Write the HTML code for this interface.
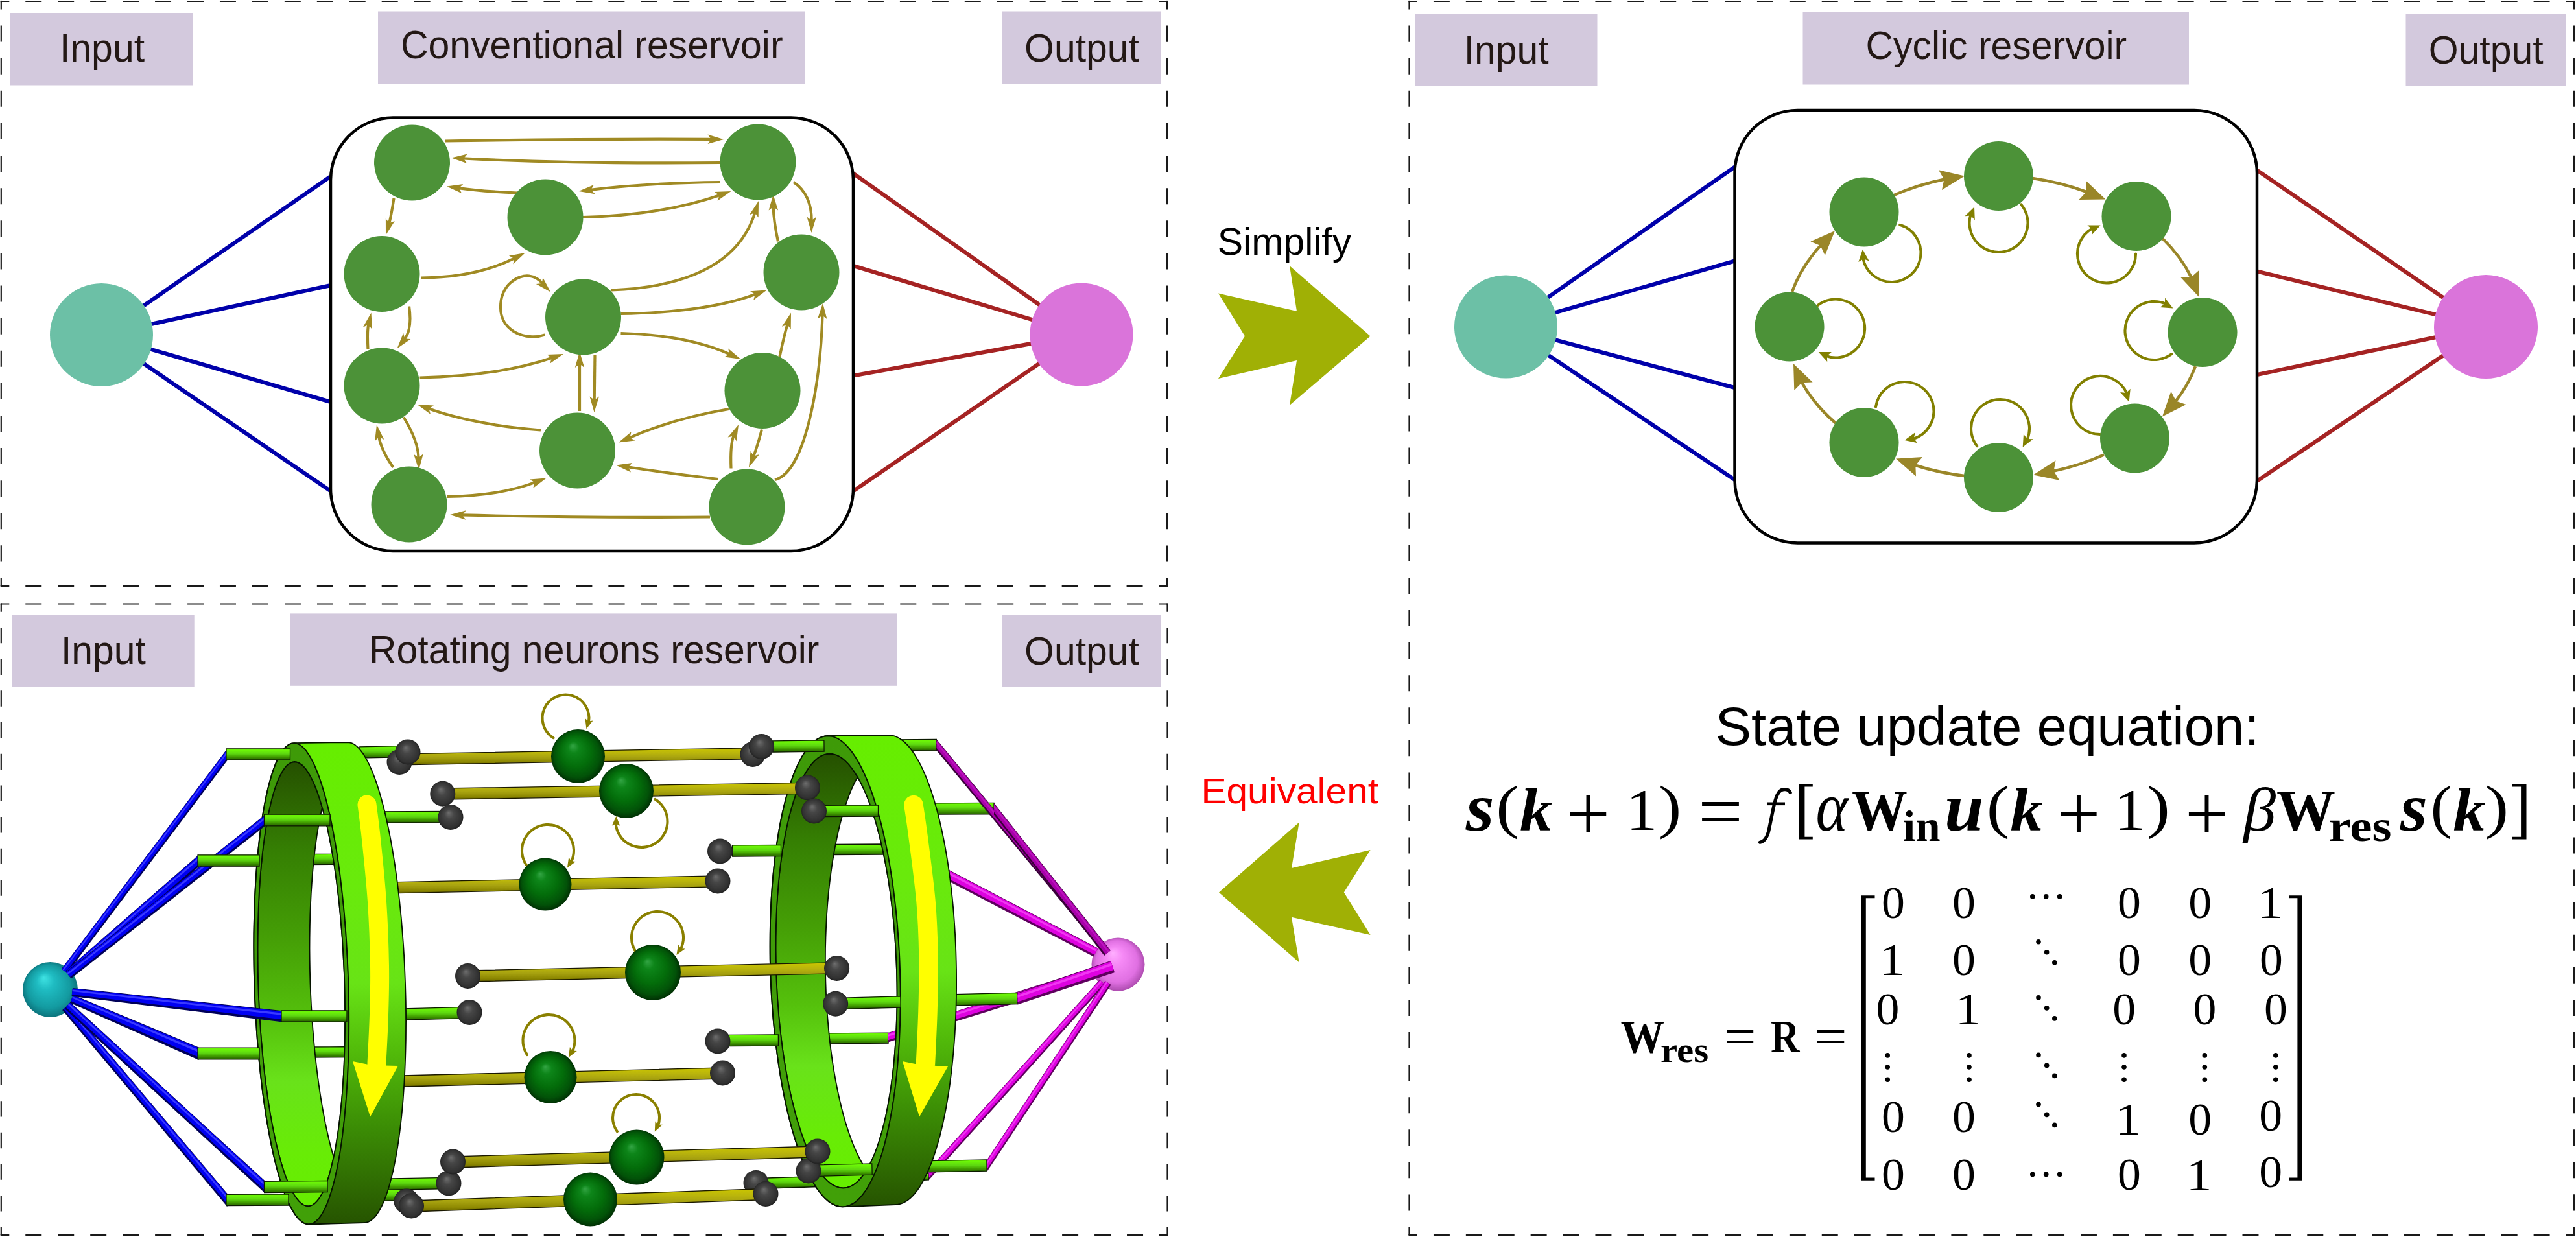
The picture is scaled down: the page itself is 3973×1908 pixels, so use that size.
<!DOCTYPE html>
<html><head><meta charset="utf-8"><title>Reservoir computing diagram</title>
<style>html,body{margin:0;padding:0;background:#fff;font-family:"Liberation Sans",sans-serif}svg{display:block}</style></head><body>
<svg width="3973" height="1908" viewBox="0 0 3973 1908">
<rect width="3973" height="1908" fill="#fff"/>
<defs>
<radialGradient id="gS" cx="0.5" cy="0.5" r="0.52" fx="0.4" fy="0.3">
<stop offset="0" stop-color="#33a544"/><stop offset="0.2" stop-color="#0d8519"/><stop offset="0.55" stop-color="#036d0a"/><stop offset="0.82" stop-color="#025208"/><stop offset="1" stop-color="#012a03"/></radialGradient>
<radialGradient id="kS" cx="0.5" cy="0.5" r="0.52" fx="0.42" fy="0.32">
<stop offset="0" stop-color="#6e6e6e"/><stop offset="0.35" stop-color="#464646"/><stop offset="0.85" stop-color="#303030"/><stop offset="1" stop-color="#1c1c1c"/></radialGradient>
<radialGradient id="cS" cx="0.5" cy="0.5" r="0.52" fx="0.38" fy="0.28">
<stop offset="0" stop-color="#3fe3e3"/><stop offset="0.3" stop-color="#1fbcc2"/><stop offset="0.75" stop-color="#139aa0"/><stop offset="1" stop-color="#0b6f78"/></radialGradient>
<radialGradient id="mS" cx="0.5" cy="0.5" r="0.52" fx="0.4" fy="0.28">
<stop offset="0" stop-color="#ffb0ff"/><stop offset="0.3" stop-color="#f68af6"/><stop offset="0.75" stop-color="#e070e2"/><stop offset="1" stop-color="#a848aa"/></radialGradient>
<linearGradient id="rG" x1="0" y1="0" x2="0" y2="1">
<stop offset="0" stop-color="#66f000"/><stop offset="0.14" stop-color="#6cf508"/><stop offset="0.45" stop-color="#5dd710"/><stop offset="0.7" stop-color="#42a000"/><stop offset="0.92" stop-color="#2e7000"/><stop offset="1" stop-color="#204f00"/></linearGradient>
<linearGradient id="rY" x1="0" y1="0" x2="0" y2="1">
<stop offset="0" stop-color="#cbc600"/><stop offset="0.3" stop-color="#bab50c"/><stop offset="0.55" stop-color="#a8a310"/><stop offset="0.85" stop-color="#8a8500"/><stop offset="1" stop-color="#686300"/></linearGradient>

<linearGradient id="ro1" gradientUnits="userSpaceOnUse" x1="0" y1="1146" x2="0" y2="1889">
<stop offset="0" stop-color="#66ee00"/><stop offset="0.3" stop-color="#69ea0c"/><stop offset="0.5" stop-color="#68e316"/><stop offset="0.64" stop-color="#52bb0a"/><stop offset="0.8" stop-color="#3b8c05"/><stop offset="1" stop-color="#265300"/></linearGradient>
<linearGradient id="ri1" gradientUnits="userSpaceOnUse" x1="0" y1="1175" x2="0" y2="1860">
<stop offset="0" stop-color="#255000"/><stop offset="0.2" stop-color="#357f03"/><stop offset="0.4" stop-color="#459f06"/><stop offset="0.58" stop-color="#55c10c"/><stop offset="0.72" stop-color="#69e21a"/><stop offset="0.88" stop-color="#68ec06"/><stop offset="1" stop-color="#66ee00"/></linearGradient>
<linearGradient id="ra1" gradientUnits="userSpaceOnUse" x1="0" y1="1146" x2="0" y2="1889">
<stop offset="0" stop-color="#3e9a08"/><stop offset="0.5" stop-color="#409c09"/><stop offset="1" stop-color="#41a008"/></linearGradient>
<linearGradient id="ro2" gradientUnits="userSpaceOnUse" x1="0" y1="1135" x2="0" y2="1861.5">
<stop offset="0" stop-color="#66ee00"/><stop offset="0.3" stop-color="#69ea0c"/><stop offset="0.5" stop-color="#68e316"/><stop offset="0.64" stop-color="#52bb0a"/><stop offset="0.8" stop-color="#3b8c05"/><stop offset="1" stop-color="#265300"/></linearGradient>
<linearGradient id="ri2" gradientUnits="userSpaceOnUse" x1="0" y1="1162.5" x2="0" y2="1832.5">
<stop offset="0" stop-color="#255000"/><stop offset="0.2" stop-color="#357f03"/><stop offset="0.4" stop-color="#459f06"/><stop offset="0.58" stop-color="#55c10c"/><stop offset="0.72" stop-color="#69e21a"/><stop offset="0.88" stop-color="#68ec06"/><stop offset="1" stop-color="#66ee00"/></linearGradient>
<linearGradient id="ra2" gradientUnits="userSpaceOnUse" x1="0" y1="1135" x2="0" y2="1861.5">
<stop offset="0" stop-color="#3e9a08"/><stop offset="0.5" stop-color="#409c09"/><stop offset="1" stop-color="#41a008"/></linearGradient>
</defs>
<line x1="1.8" y1="2" x2="1800" y2="2" stroke="#1a1a1a" stroke-width="2.2" stroke-dasharray="24.975 24.975" stroke-dashoffset="12.488"/>
<line x1="1800" y1="2" x2="1800" y2="904" stroke="#1a1a1a" stroke-width="2.2" stroke-dasharray="25.056 25.056" stroke-dashoffset="12.528"/>
<line x1="1800" y1="904" x2="1.8" y2="904" stroke="#1a1a1a" stroke-width="2.2" stroke-dasharray="24.975 24.975" stroke-dashoffset="12.488"/>
<line x1="1.8" y1="904" x2="1.8" y2="2" stroke="#1a1a1a" stroke-width="2.2" stroke-dasharray="25.056 25.056" stroke-dashoffset="12.528"/>
<rect x="0.7" y="0.9" width="2.2" height="2.2" fill="#1a1a1a"/>
<rect x="1798.9" y="0.9" width="2.2" height="2.2" fill="#1a1a1a"/>
<rect x="1798.9" y="902.9" width="2.2" height="2.2" fill="#1a1a1a"/>
<rect x="0.7" y="902.9" width="2.2" height="2.2" fill="#1a1a1a"/>
<line x1="2173.5" y1="2" x2="3970" y2="2" stroke="#1a1a1a" stroke-width="2.2" stroke-dasharray="24.951 24.951" stroke-dashoffset="12.476"/>
<line x1="3970" y1="2" x2="3970" y2="1905" stroke="#1a1a1a" stroke-width="2.2" stroke-dasharray="25.039 25.039" stroke-dashoffset="12.520"/>
<line x1="3970" y1="1905" x2="2173.5" y2="1905" stroke="#1a1a1a" stroke-width="2.2" stroke-dasharray="24.951 24.951" stroke-dashoffset="12.476"/>
<line x1="2173.5" y1="1905" x2="2173.5" y2="2" stroke="#1a1a1a" stroke-width="2.2" stroke-dasharray="25.039 25.039" stroke-dashoffset="12.520"/>
<rect x="2172.4" y="0.9" width="2.2" height="2.2" fill="#1a1a1a"/>
<rect x="3968.9" y="0.9" width="2.2" height="2.2" fill="#1a1a1a"/>
<rect x="3968.9" y="1903.9" width="2.2" height="2.2" fill="#1a1a1a"/>
<rect x="2172.4" y="1903.9" width="2.2" height="2.2" fill="#1a1a1a"/>
<line x1="1.8" y1="931.5" x2="1800.5" y2="931.5" stroke="#1a1a1a" stroke-width="2.2" stroke-dasharray="24.982 24.982" stroke-dashoffset="12.491"/>
<line x1="1800.5" y1="931.5" x2="1800.5" y2="1905" stroke="#1a1a1a" stroke-width="2.2" stroke-dasharray="24.337 24.337" stroke-dashoffset="12.169"/>
<line x1="1800.5" y1="1905" x2="1.8" y2="1905" stroke="#1a1a1a" stroke-width="2.2" stroke-dasharray="24.982 24.982" stroke-dashoffset="12.491"/>
<line x1="1.8" y1="1905" x2="1.8" y2="931.5" stroke="#1a1a1a" stroke-width="2.2" stroke-dasharray="24.337 24.337" stroke-dashoffset="12.169"/>
<rect x="0.7" y="930.4" width="2.2" height="2.2" fill="#1a1a1a"/>
<rect x="1799.4" y="930.4" width="2.2" height="2.2" fill="#1a1a1a"/>
<rect x="1799.4" y="1903.9" width="2.2" height="2.2" fill="#1a1a1a"/>
<rect x="0.7" y="1903.9" width="2.2" height="2.2" fill="#1a1a1a"/>
<rect x="16" y="20" width="282" height="111.5" fill="#d3c9dd"/>
<text transform="translate(157.5,95) scale(0.966,1)" font-family="Liberation Sans, sans-serif" font-size="61" text-anchor="middle" fill="#231815">Input</text>
<rect x="583" y="17.5" width="658.5" height="111.5" fill="#d3c9dd"/>
<text transform="translate(912.8,90) scale(0.966,1)" font-family="Liberation Sans, sans-serif" font-size="61" text-anchor="middle" fill="#231815">Conventional reservoir</text>
<rect x="1545" y="17.5" width="246" height="111.5" fill="#d3c9dd"/>
<text transform="translate(1668.5,95) scale(0.966,1)" font-family="Liberation Sans, sans-serif" font-size="61" text-anchor="middle" fill="#231815">Output</text>
<rect x="2182" y="21" width="281.5" height="112" fill="#d3c9dd"/>
<text transform="translate(2323.2,97.5) scale(0.966,1)" font-family="Liberation Sans, sans-serif" font-size="61" text-anchor="middle" fill="#231815">Input</text>
<rect x="2780.5" y="19" width="595.5" height="111.5" fill="#d3c9dd"/>
<text transform="translate(3078.8,91) scale(0.966,1)" font-family="Liberation Sans, sans-serif" font-size="61" text-anchor="middle" fill="#231815">Cyclic reservoir</text>
<rect x="3710.5" y="21" width="246.5" height="112" fill="#d3c9dd"/>
<text transform="translate(3834.2,97.5) scale(0.966,1)" font-family="Liberation Sans, sans-serif" font-size="61" text-anchor="middle" fill="#231815">Output</text>
<rect x="18.2" y="948.3" width="281.5" height="111.5" fill="#d3c9dd"/>
<text transform="translate(159.4,1024) scale(0.966,1)" font-family="Liberation Sans, sans-serif" font-size="61" text-anchor="middle" fill="#231815">Input</text>
<rect x="447.5" y="946.4" width="936.5" height="111.4" fill="#d3c9dd"/>
<text transform="translate(916.2,1023) scale(0.966,1)" font-family="Liberation Sans, sans-serif" font-size="61" text-anchor="middle" fill="#231815">Rotating neurons reservoir</text>
<rect x="1545" y="948.5" width="246" height="111.5" fill="#d3c9dd"/>
<text transform="translate(1668.5,1025) scale(0.966,1)" font-family="Liberation Sans, sans-serif" font-size="61" text-anchor="middle" fill="#231815">Output</text>
<line x1="156.5" y1="516.5" x2="510" y2="272" stroke="#0000aa" stroke-width="6.2"/>
<line x1="156.5" y1="516.5" x2="510" y2="440" stroke="#0000aa" stroke-width="6.2"/>
<line x1="156.5" y1="516.5" x2="510" y2="620" stroke="#0000aa" stroke-width="6.2"/>
<line x1="156.5" y1="516.5" x2="510" y2="757.5" stroke="#0000aa" stroke-width="6.2"/>
<line x1="1668" y1="516" x2="1316" y2="267.5" stroke="#a52323" stroke-width="6.2"/>
<line x1="1668" y1="516" x2="1316" y2="410" stroke="#a52323" stroke-width="6.2"/>
<line x1="1668" y1="516" x2="1316" y2="579.5" stroke="#a52323" stroke-width="6.2"/>
<line x1="1668" y1="516" x2="1316" y2="757.5" stroke="#a52323" stroke-width="6.2"/>
<circle cx="156.5" cy="516.5" r="79.5" fill="#6cc0a6"/>
<circle cx="1668" cy="516" r="79.5" fill="#da74da"/>
<rect x="510" y="181.5" width="806" height="668.5" rx="96" ry="96" fill="#fff" stroke="#000" stroke-width="4.5"/>
<path d="M686,217.5 Q900,214 1098,214.9" fill="none" stroke="#a08a23" stroke-width="4.2"/>
<path d="M1116,215 L1091.5,222.1 L1097,214.9 L1091.5,207.6 Z" fill="#a08a23"/>
<path d="M1111,251 Q880,253 714,244.4" fill="none" stroke="#a08a23" stroke-width="4.2"/>
<path d="M696,243.5 L720.8,237.5 L715,244.5 L720.1,252 Z" fill="#a08a23"/>
<path d="M1111,281 Q1000,282 910.4,292.8" fill="none" stroke="#a08a23" stroke-width="4.2"/>
<path d="M892.5,295 L916,284.9 L911.4,292.7 L917.7,299.3 Z" fill="#a08a23"/>
<path d="M797.5,297.5 Q740,295 706.8,290.1" fill="none" stroke="#a08a23" stroke-width="4.2"/>
<path d="M689,287.5 L714.3,283.9 L707.8,290.3 L712.2,298.2 Z" fill="#a08a23"/>
<path d="M899,335 Q1020,332 1110.5,300.9" fill="none" stroke="#a08a23" stroke-width="4.2"/>
<path d="M1127.5,295 L1106.7,309.8 L1109.5,301.2 L1102,296.1 Z" fill="#a08a23"/>
<path d="M607.5,306 Q603,335 600,345.2" fill="none" stroke="#a08a23" stroke-width="4.2"/>
<path d="M595,362.5 L594.9,337 L600.3,344.3 L608.8,341 Z" fill="#a08a23"/>
<path d="M650,428.5 Q735,428 793.9,398.1" fill="none" stroke="#a08a23" stroke-width="4.2"/>
<path d="M810,390 L791.4,407.5 L793.1,398.6 L784.9,394.6 Z" fill="#a08a23"/>
<path d="M942.5,447.5 Q1130,440 1164.7,327.2" fill="none" stroke="#a08a23" stroke-width="4.2"/>
<path d="M1170,310 L1169.7,335.5 L1164.4,328.2 L1155.9,331.3 Z" fill="#a08a23"/>
<path d="M957.5,484 Q1090,482 1165.6,453.8" fill="none" stroke="#a08a23" stroke-width="4.2"/>
<path d="M1182.5,447.5 L1162.1,462.9 L1164.7,454.1 L1157,449.3 Z" fill="#a08a23"/>
<path d="M957.5,514 Q1060,517 1126.1,546.6" fill="none" stroke="#a08a23" stroke-width="4.2"/>
<path d="M1142.5,554 L1117.2,550.6 L1125.2,546.2 L1123.1,537.4 Z" fill="#a08a23"/>
<path d="M567.5,539 Q566,510 568.4,500" fill="none" stroke="#a08a23" stroke-width="4.2"/>
<path d="M572.5,482.5 L573.9,508 L568.1,501 L559.8,504.7 Z" fill="#a08a23"/>
<path d="M631,472.5 Q636,508 623.7,523.4" fill="none" stroke="#a08a23" stroke-width="4.2"/>
<path d="M612.5,537.5 L622.1,513.8 L624.3,522.6 L633.4,522.9 Z" fill="#a08a23"/>
<path d="M647.5,582.5 Q770,580 852,551.8" fill="none" stroke="#a08a23" stroke-width="4.2"/>
<path d="M869,546 L848.2,560.8 L851,552.2 L843.5,547.1 Z" fill="#a08a23"/>
<path d="M1224,281 Q1252,300 1251.7,341" fill="none" stroke="#a08a23" stroke-width="4.2"/>
<path d="M1251.5,359 L1244.5,334.4 L1251.7,340 L1259,334.6 Z" fill="#a08a23"/>
<path d="M1200,372.5 Q1193,340 1192.7,318" fill="none" stroke="#a08a23" stroke-width="4.2"/>
<path d="M1192.5,300 L1200.1,324.4 L1192.7,319 L1185.6,324.6 Z" fill="#a08a23"/>
<path d="M1202.5,550 Q1210,515 1214.7,499.7" fill="none" stroke="#a08a23" stroke-width="4.2"/>
<path d="M1220,482.5 L1219.7,508 L1214.4,500.7 L1205.9,503.8 Z" fill="#a08a23"/>
<path d="M894,634 Q894,590 894,560.5" fill="none" stroke="#a08a23" stroke-width="4.2"/>
<path d="M894,542.5 L901.2,567 L894,561.5 L886.8,567 Z" fill="#a08a23"/>
<path d="M917.5,547.5 Q917,590 916.7,618" fill="none" stroke="#a08a23" stroke-width="4.2"/>
<path d="M916.5,636 L909.5,611.4 L916.7,617 L924,611.6 Z" fill="#a08a23"/>
<path d="M834,663.5 Q730,655 660.4,630.1" fill="none" stroke="#a08a23" stroke-width="4.2"/>
<path d="M643.5,624 L669,625.4 L661.4,630.4 L664.1,639.1 Z" fill="#a08a23"/>
<path d="M1124,631 Q1040,645 970.5,675.3" fill="none" stroke="#a08a23" stroke-width="4.2"/>
<path d="M954,682.5 L973.6,666.1 L971.4,674.9 L979.4,679.4 Z" fill="#a08a23"/>
<path d="M1107.5,739 Q1030,730 967.8,720.3" fill="none" stroke="#a08a23" stroke-width="4.2"/>
<path d="M950,717.5 L975.3,714.1 L968.8,720.4 L973.1,728.4 Z" fill="#a08a23"/>
<path d="M690,766 Q770,765 825.7,743.9" fill="none" stroke="#a08a23" stroke-width="4.2"/>
<path d="M842.5,737.5 L822.2,753 L824.7,744.2 L817,739.4 Z" fill="#a08a23"/>
<path d="M1095,797.5 Q900,799 712,794.4" fill="none" stroke="#a08a23" stroke-width="4.2"/>
<path d="M694,794 L718.7,787.3 L713,794.5 L718.3,801.8 Z" fill="#a08a23"/>
<path d="M622.5,643.5 Q645,680 645.6,707" fill="none" stroke="#a08a23" stroke-width="4.2"/>
<path d="M646,725 L638.2,700.7 L645.6,706 L652.7,700.3 Z" fill="#a08a23"/>
<path d="M606.5,721 Q588,695 584.1,672.7" fill="none" stroke="#a08a23" stroke-width="4.2"/>
<path d="M581,655 L592.4,677.9 L584.3,673.7 L578.1,680.4 Z" fill="#a08a23"/>
<path d="M1127.5,722.5 Q1126,685 1131.8,671.5" fill="none" stroke="#a08a23" stroke-width="4.2"/>
<path d="M1139,655 L1135.9,680.4 L1131.4,672.4 L1122.6,674.6 Z" fill="#a08a23"/>
<path d="M1175,662.5 Q1167,692 1161.9,704.4" fill="none" stroke="#a08a23" stroke-width="4.2"/>
<path d="M1155,721 L1157.7,695.6 L1162.3,703.4 L1171.1,701.1 Z" fill="#a08a23"/>
<path d="M1195,740 C1240,730 1265,600 1268.5,485.5" fill="none" stroke="#a08a23" stroke-width="4.2"/>
<path d="M1269,467.5 L1275.5,492.2 L1268.4,486.5 L1261,491.8 Z" fill="#a08a23"/>
<path d="M840.5,516.5 C812,526 772,512 772,474 C772,438 800,423.5 816,425.5 C827,427 833,432 837.5,438.5" fill="none" stroke="#a08a23" stroke-width="4.2"/>
<path d="M849.2,450.4 L826.8,438 L835.9,436.9 L837.2,427.9 Z" fill="#a08a23"/>
<circle cx="635.5" cy="251" r="58.5" fill="#4c9238"/>
<circle cx="841" cy="335" r="58.5" fill="#4c9238"/>
<circle cx="589" cy="422.5" r="58.5" fill="#4c9238"/>
<circle cx="899.5" cy="489" r="58.5" fill="#4c9238"/>
<circle cx="1169" cy="250" r="58.5" fill="#4c9238"/>
<circle cx="1236" cy="420" r="58.5" fill="#4c9238"/>
<circle cx="589" cy="595" r="58.5" fill="#4c9238"/>
<circle cx="1176" cy="602.5" r="58.5" fill="#4c9238"/>
<circle cx="890.5" cy="695" r="58.5" fill="#4c9238"/>
<circle cx="631" cy="778" r="58.5" fill="#4c9238"/>
<circle cx="1152" cy="782" r="58.5" fill="#4c9238"/>
<text x="1981" y="392.5" font-family="Liberation Sans, sans-serif" font-size="59" text-anchor="middle" fill="#000">Simplify</text>
<path d="M1879,452.5 L2000,480 L1989,410 L2113.5,518.5 L1989,625 L2000,556 L1879,584 L1920,518.5 Z" fill="#a0b005"/>
<text transform="translate(1989.2,1239) scale(1.05,1)" font-family="Liberation Sans, sans-serif" font-size="55.8" text-anchor="middle" fill="#ff0000">Equivalent</text>
<path d="M2113.6,1311 L1992,1339 L2003.7,1268.4 L1880,1376.5 L2003.7,1484.5 L1992,1414.7 L2113.6,1442 L2072.8,1376.5 Z" fill="#a0b005"/>
<line x1="2322.5" y1="504" x2="2675.5" y2="257.5" stroke="#0000aa" stroke-width="6.2"/>
<line x1="2322.5" y1="504" x2="2675.5" y2="402.5" stroke="#0000aa" stroke-width="6.2"/>
<line x1="2322.5" y1="504" x2="2675.5" y2="598" stroke="#0000aa" stroke-width="6.2"/>
<line x1="2322.5" y1="504" x2="2675.5" y2="740" stroke="#0000aa" stroke-width="6.2"/>
<line x1="3834" y1="504" x2="3481" y2="262.5" stroke="#a52323" stroke-width="6.2"/>
<line x1="3834" y1="504" x2="3481" y2="418.5" stroke="#a52323" stroke-width="6.2"/>
<line x1="3834" y1="504" x2="3481" y2="578" stroke="#a52323" stroke-width="6.2"/>
<line x1="3834" y1="504" x2="3481" y2="742" stroke="#a52323" stroke-width="6.2"/>
<circle cx="2322.5" cy="504" r="79.5" fill="#6cc0a6"/>
<circle cx="3834" cy="504" r="80" fill="#da74da"/>
<rect x="2675.5" y="170" width="805.5" height="667.5" rx="97" ry="97" fill="#fff" stroke="#000" stroke-width="4.5"/>
<path d="M2764,450 A318,232 0 0 1 2808.4,378.3" fill="none" stroke="#9a8628" stroke-width="4.5"/>
<path d="M2830,356 L2814.7,394.1 L2807.7,379 L2792.4,372.5 Z" fill="#9a8628"/>
<path d="M2921,301 A318,232 0 0 1 2999.4,276.5" fill="none" stroke="#9a8628" stroke-width="4.5"/>
<path d="M3030,271.5 L2995,292.9 L2998.4,276.7 L2990,262.3 Z" fill="#9a8628"/>
<path d="M3135,275 A318,232 0 0 1 3218.6,296.2" fill="none" stroke="#9a8628" stroke-width="4.5"/>
<path d="M3247.5,307.5 L3206.5,308.1 L3217.7,295.9 L3217.7,279.2 Z" fill="#9a8628"/>
<path d="M3335,367.5 A318,232 0 0 1 3380,428.5" fill="none" stroke="#9a8628" stroke-width="4.5"/>
<path d="M3391,457.5 L3363,427.5 L3379.6,427.6 L3392,416.5 Z" fill="#9a8628"/>
<path d="M3386,565 A318,232 0 0 1 3355.4,619.2" fill="none" stroke="#9a8628" stroke-width="4.5"/>
<path d="M3335,642.5 L3348.4,603.7 L3356.1,618.4 L3371.7,624.1 Z" fill="#9a8628"/>
<path d="M3245,701.5 A318,232 0 0 1 3166.5,726.8" fill="none" stroke="#9a8628" stroke-width="4.5"/>
<path d="M3136,732.5 L3170.5,710.3 L3167.5,726.6 L3176.2,740.8 Z" fill="#9a8628"/>
<path d="M3030,734 A318,232 0 0 1 2953.3,717.5" fill="none" stroke="#9a8628" stroke-width="4.5"/>
<path d="M2924,707.5 L2965,705.1 L2954.3,717.8 L2955,734.4 Z" fill="#9a8628"/>
<path d="M2831,652.5 A318,232 0 0 1 2778.6,589.3" fill="none" stroke="#9a8628" stroke-width="4.5"/>
<path d="M2766,561 L2795.6,589.4 L2779,590.2 L2767.3,602 Z" fill="#9a8628"/>
<path d="M2803.7,470.8 A45,45 0 1 1 2816.6,549.1" fill="none" stroke="#828000" stroke-width="4.1" stroke-linecap="round"/>
<path d="M2804.7,543 L2824.9,543 L2817.9,548.9 L2818.2,558.1 Z" fill="#828000"/>
<path d="M2930.2,346.8 A45,45 0 1 1 2873.3,398.3" fill="none" stroke="#828000" stroke-width="4.1" stroke-linecap="round"/>
<path d="M2872.8,384.8 L2882.7,402.5 L2874.1,399.3 L2866.3,404 Z" fill="#828000"/>
<path d="M3117.2,315.3 A45,45 0 1 1 3039.3,331.4" fill="none" stroke="#828000" stroke-width="4.1" stroke-linecap="round"/>
<path d="M3045,319.2 L3045.8,339.4 L3039.6,332.6 L3030.5,333.3 Z" fill="#828000"/>
<path d="M3294,391.5 A45,45 0 1 1 3227.1,352.2" fill="none" stroke="#828000" stroke-width="4.1" stroke-linecap="round"/>
<path d="M3239.6,347.5 L3226,362.5 L3226.4,353.3 L3219.4,347.4 Z" fill="#828000"/>
<path d="M3349.2,546.2 A45,45 0 1 1 3340.1,468.6" fill="none" stroke="#828000" stroke-width="4.1" stroke-linecap="round"/>
<path d="M3351.5,475.6 L3331.3,474.1 L3338.8,468.7 L3339.2,459.6 Z" fill="#828000"/>
<path d="M3239,670 A45,45 0 1 1 3280.2,606.8" fill="none" stroke="#828000" stroke-width="4.1" stroke-linecap="round"/>
<path d="M3283.7,619.8 L3270,604.9 L3279.1,606.1 L3285.7,599.7 Z" fill="#828000"/>
<path d="M3049.1,688.1 A45,45 0 1 1 3126.6,678.2" fill="none" stroke="#828000" stroke-width="4.1" stroke-linecap="round"/>
<path d="M3119.7,689.7 L3121,669.5 L3126.4,676.9 L3135.6,677.2 Z" fill="#828000"/>
<path d="M2893,627.6 A45,45 0 1 1 2950.8,677" fill="none" stroke="#828000" stroke-width="4.1" stroke-linecap="round"/>
<path d="M2937.5,679 L2953.9,667.1 L2951.7,676 L2957.3,683.3 Z" fill="#828000"/>
<circle cx="2875" cy="327" r="53.5" fill="#4c9238"/>
<circle cx="3082.5" cy="271.5" r="53.5" fill="#4c9238"/>
<circle cx="3295" cy="333.5" r="53.5" fill="#4c9238"/>
<circle cx="3397" cy="512.5" r="53.5" fill="#4c9238"/>
<circle cx="3292.5" cy="676" r="53.5" fill="#4c9238"/>
<circle cx="3082.5" cy="736.5" r="53.5" fill="#4c9238"/>
<circle cx="2875" cy="682.5" r="53.5" fill="#4c9238"/>
<circle cx="2760" cy="504" r="53.5" fill="#4c9238"/>
<text x="3065" y="1148.5" font-family="Liberation Sans, sans-serif" font-size="83.4" text-anchor="middle" fill="#000">State update equation:</text>
<text transform="translate(2260.8,1281) scale(1.074,1)" font-family="Liberation Serif, serif" font-size="105" font-weight="bold" font-style="italic" fill="#000">s</text>
<text transform="translate(2307.3,1275) scale(1.167,1)" font-family="Liberation Serif, serif" font-size="92" fill="#000">(</text>
<text transform="translate(2343.9,1281) scale(1.065,1)" font-family="Liberation Serif, serif" font-size="94" font-weight="bold" font-style="italic" fill="#000">k</text>
<text transform="translate(2416.1,1294.8) scale(0.982,1)" font-family="Liberation Serif, serif" font-size="121" fill="#000">+</text>
<text transform="translate(2508,1280) scale(1.058,1)" font-family="Liberation Serif, serif" font-size="91" fill="#000">1</text>
<text transform="translate(2557.7,1275) scale(1.160,1)" font-family="Liberation Serif, serif" font-size="92" fill="#000">)</text>
<text transform="translate(2618.9,1292) scale(1.009,1)" font-family="Liberation Serif, serif" font-size="121" fill="#000">=</text>
<text transform="translate(2800.4,1281) scale(0.875,1)" font-family="Liberation Serif, serif" font-size="108" font-style="italic" fill="#000">α</text>
<text transform="translate(2856.1,1281) scale(0.933,1)" font-family="Liberation Serif, serif" font-size="92" font-weight="bold" fill="#000">W</text>
<text transform="translate(2935,1297) scale(1.015,1)" font-family="Liberation Serif, serif" font-size="68" font-weight="bold" fill="#000">in</text>
<text transform="translate(2998.9,1281) scale(1.038,1)" font-family="Liberation Serif, serif" font-size="105" font-weight="bold" font-style="italic" fill="#000">u</text>
<text transform="translate(3063.7,1275) scale(1.167,1)" font-family="Liberation Serif, serif" font-size="92" fill="#000">(</text>
<text transform="translate(3100.5,1281) scale(1.063,1)" font-family="Liberation Serif, serif" font-size="94" font-weight="bold" font-style="italic" fill="#000">k</text>
<text transform="translate(3172.6,1294.8) scale(0.981,1)" font-family="Liberation Serif, serif" font-size="121" fill="#000">+</text>
<text transform="translate(3260.8,1280) scale(1.061,1)" font-family="Liberation Serif, serif" font-size="91" fill="#000">1</text>
<text transform="translate(3310.6,1275) scale(1.188,1)" font-family="Liberation Serif, serif" font-size="92" fill="#000">)</text>
<text transform="translate(3370,1294.8) scale(0.981,1)" font-family="Liberation Serif, serif" font-size="121" fill="#000">+</text>
<text transform="translate(3460.1,1281) scale(1.048,1)" font-family="Liberation Serif, serif" font-size="96" font-style="italic" fill="#000">β</text>
<text transform="translate(3511,1281) scale(0.989,1)" font-family="Liberation Serif, serif" font-size="92" font-weight="bold" fill="#000">W</text>
<text transform="translate(3591.4,1297) scale(1.134,1)" font-family="Liberation Serif, serif" font-size="68" font-weight="bold" fill="#000">res</text>
<text transform="translate(3701.8,1281) scale(1.031,1)" font-family="Liberation Serif, serif" font-size="105" font-weight="bold" font-style="italic" fill="#000">s</text>
<text transform="translate(3748.6,1275) scale(1.100,1)" font-family="Liberation Serif, serif" font-size="92" fill="#000">(</text>
<text transform="translate(3783.6,1281) scale(1.063,1)" font-family="Liberation Serif, serif" font-size="94" font-weight="bold" font-style="italic" fill="#000">k</text>
<text transform="translate(3832.6,1275) scale(1.200,1)" font-family="Liberation Serif, serif" font-size="92" fill="#000">)</text>
<text transform="translate(2499.4,1623) scale(0.932,1)" font-family="Liberation Serif, serif" font-size="72.5" font-weight="bold" fill="#000">W</text>
<text transform="translate(2560.9,1638) scale(1.092,1)" font-family="Liberation Serif, serif" font-size="54" font-weight="bold" fill="#000">res</text>
<text transform="translate(2658.7,1625.5) scale(1.103,1)" font-family="Liberation Serif, serif" font-size="80" fill="#000">=</text>
<text transform="translate(2731,1623) scale(0.850,1)" font-family="Liberation Serif, serif" font-size="72.5" font-weight="bold" fill="#000">R</text>
<text transform="translate(2798.4,1625.5) scale(1.110,1)" font-family="Liberation Serif, serif" font-size="80" fill="#000">=</text>
<text transform="translate(2901.9,1415.5) scale(1.040,1)" font-family="Liberation Serif, serif" font-size="69" fill="#000">0</text>
<text transform="translate(3010.9,1415.5) scale(1.040,1)" font-family="Liberation Serif, serif" font-size="69" fill="#000">0</text>
<text transform="translate(3266.1,1415.5) scale(1.040,1)" font-family="Liberation Serif, serif" font-size="69" fill="#000">0</text>
<text transform="translate(3375.2,1415.5) scale(1.040,1)" font-family="Liberation Serif, serif" font-size="69" fill="#000">0</text>
<text transform="translate(3481.3,1415.5) scale(1.160,1)" font-family="Liberation Serif, serif" font-size="69" fill="#000">1</text>
<text transform="translate(2898.1,1504) scale(1.160,1)" font-family="Liberation Serif, serif" font-size="69" fill="#000">1</text>
<text transform="translate(3010.9,1504) scale(1.040,1)" font-family="Liberation Serif, serif" font-size="69" fill="#000">0</text>
<text transform="translate(3266.1,1504) scale(1.040,1)" font-family="Liberation Serif, serif" font-size="69" fill="#000">0</text>
<text transform="translate(3375.2,1504) scale(1.040,1)" font-family="Liberation Serif, serif" font-size="69" fill="#000">0</text>
<text transform="translate(3485.1,1504) scale(1.040,1)" font-family="Liberation Serif, serif" font-size="69" fill="#000">0</text>
<text transform="translate(2893.5,1580) scale(1.040,1)" font-family="Liberation Serif, serif" font-size="69" fill="#000">0</text>
<text transform="translate(3015.5,1580) scale(1.160,1)" font-family="Liberation Serif, serif" font-size="69" fill="#000">1</text>
<text transform="translate(3258.3,1580) scale(1.040,1)" font-family="Liberation Serif, serif" font-size="69" fill="#000">0</text>
<text transform="translate(3382.6,1580) scale(1.040,1)" font-family="Liberation Serif, serif" font-size="69" fill="#000">0</text>
<text transform="translate(3492.1,1580) scale(1.040,1)" font-family="Liberation Serif, serif" font-size="69" fill="#000">0</text>
<text transform="translate(2901.9,1745.6) scale(1.040,1)" font-family="Liberation Serif, serif" font-size="69" fill="#000">0</text>
<text transform="translate(3010.9,1745.6) scale(1.040,1)" font-family="Liberation Serif, serif" font-size="69" fill="#000">0</text>
<text transform="translate(3262.3,1749.6) scale(1.160,1)" font-family="Liberation Serif, serif" font-size="69" fill="#000">1</text>
<text transform="translate(3375.2,1749.6) scale(1.040,1)" font-family="Liberation Serif, serif" font-size="69" fill="#000">0</text>
<text transform="translate(3484.3,1743.6) scale(1.040,1)" font-family="Liberation Serif, serif" font-size="69" fill="#000">0</text>
<text transform="translate(2901.9,1834.7) scale(1.040,1)" font-family="Liberation Serif, serif" font-size="69" fill="#000">0</text>
<text transform="translate(3010.9,1834.7) scale(1.040,1)" font-family="Liberation Serif, serif" font-size="69" fill="#000">0</text>
<text transform="translate(3266.1,1834.7) scale(1.040,1)" font-family="Liberation Serif, serif" font-size="69" fill="#000">0</text>
<text transform="translate(3371.4,1835.7) scale(1.160,1)" font-family="Liberation Serif, serif" font-size="69" fill="#000">1</text>
<text transform="translate(3484.3,1830.7) scale(1.040,1)" font-family="Liberation Serif, serif" font-size="69" fill="#000">0</text>
<path d="M2761.2,1222.5 C2758.5,1216.5 2748.5,1215.5 2743.6,1222 C2739.5,1227.5 2737.2,1236 2735.2,1246 L2728.2,1280 C2726,1290.5 2722.5,1297.5 2714.5,1299.3" fill="none" stroke="#000" stroke-width="5.2" stroke-linecap="round"/>
<path d="M2726,1239.8 H2753" fill="none" stroke="#000" stroke-width="4.6"/>
<path d="M2775,1210 H2795.8 V1213.6 H2783.4 V1290.8 H2795.8 V1294.4 H2775 Z" fill="#000"/>
<path d="M3896.5,1210 H3874.5 V1213.6 H3888.1 V1290.8 H3874.5 V1294.4 H3896.5 Z" fill="#000"/>
<path d="M2870.9,1381.2 H2891.5 V1385.3 H2877.8 V1816.6 H2891.5 V1820.7 H2870.9 Z" fill="#000"/>
<path d="M3550.3,1381.2 H3530.7 V1385.3 H3543.4 V1816.6 H3530.7 V1820.7 H3550.3 Z" fill="#000"/>
<circle cx="3134.8" cy="1382.9" r="3.8" fill="#000"/>
<circle cx="3155.7" cy="1382.9" r="3.8" fill="#000"/>
<circle cx="3176.7" cy="1382.9" r="3.8" fill="#000"/>
<circle cx="3134.8" cy="1811.4" r="3.8" fill="#000"/>
<circle cx="3155.7" cy="1811.4" r="3.8" fill="#000"/>
<circle cx="3176.7" cy="1811.4" r="3.8" fill="#000"/>
<circle cx="3144" cy="1452.7" r="3.8" fill="#000"/>
<circle cx="3156.7" cy="1468.7" r="3.8" fill="#000"/>
<circle cx="3168.8" cy="1484.7" r="3.8" fill="#000"/>
<circle cx="3144" cy="1538.9" r="3.8" fill="#000"/>
<circle cx="3156.7" cy="1554.9" r="3.8" fill="#000"/>
<circle cx="3168.8" cy="1570.9" r="3.8" fill="#000"/>
<circle cx="3144" cy="1627.4" r="3.8" fill="#000"/>
<circle cx="3156.7" cy="1643.4" r="3.8" fill="#000"/>
<circle cx="3168.8" cy="1659.4" r="3.8" fill="#000"/>
<circle cx="3144" cy="1703.4" r="3.8" fill="#000"/>
<circle cx="3156.7" cy="1719.4" r="3.8" fill="#000"/>
<circle cx="3168.8" cy="1735.4" r="3.8" fill="#000"/>
<circle cx="2911.2" cy="1627.9" r="3.8" fill="#000"/>
<circle cx="2911.2" cy="1646" r="3.8" fill="#000"/>
<circle cx="2911.2" cy="1665.2" r="3.8" fill="#000"/>
<circle cx="3037" cy="1627.9" r="3.8" fill="#000"/>
<circle cx="3037" cy="1646" r="3.8" fill="#000"/>
<circle cx="3037" cy="1665.2" r="3.8" fill="#000"/>
<circle cx="3276" cy="1627.9" r="3.8" fill="#000"/>
<circle cx="3276" cy="1646" r="3.8" fill="#000"/>
<circle cx="3276" cy="1665.2" r="3.8" fill="#000"/>
<circle cx="3400.3" cy="1627.9" r="3.8" fill="#000"/>
<circle cx="3400.3" cy="1646" r="3.8" fill="#000"/>
<circle cx="3400.3" cy="1665.2" r="3.8" fill="#000"/>
<circle cx="3509.8" cy="1627.9" r="3.8" fill="#000"/>
<circle cx="3509.8" cy="1646" r="3.8" fill="#000"/>
<circle cx="3509.8" cy="1665.2" r="3.8" fill="#000"/>
<circle cx="77.5" cy="1526.5" r="42.5" fill="url(#cS)"/>
<circle cx="1724.5" cy="1487.5" r="41" fill="url(#mS)"/>
<polygon points="94.8,1494.4 350.5,1154.7 350.5,1172.9 103.5,1501" fill="#000058"/>
<polygon points="95.3,1494.8 350.5,1155.8 350.5,1168.9 101.6,1499.6" fill="#0000f2"/>
<polygon points="96.5,1495.8 350.5,1158.3 350.5,1162 98.3,1497.1" fill="#3a3aff"/>
<polygon points="100.4,1498 306.5,1318.5 306.5,1337.1 109,1507.8" fill="#000058"/>
<polygon points="100.9,1498.6 306.5,1319.6 306.5,1333 107.1,1505.7" fill="#0000f2"/>
<polygon points="102.1,1500 306.5,1322.2 306.5,1325.9 103.8,1501.9" fill="#3a3aff"/>
<polygon points="113.1,1534.8 306.5,1615.4 306.5,1635 108,1546.7" fill="#000058"/>
<polygon points="112.8,1535.5 306.5,1616.6 306.5,1630.7 109.1,1544.1" fill="#0000f2"/>
<polygon points="112.1,1537.2 306.5,1619.3 306.5,1623.2 111.1,1539.6" fill="#3a3aff"/>
<polygon points="105.3,1550.2 350.5,1841.1 350.5,1861.3 96.1,1557.9" fill="#000058"/>
<polygon points="104.7,1550.7 350.5,1842.3 350.5,1856.9 98.1,1556.2" fill="#0000f2"/>
<polygon points="103.4,1551.7 350.5,1845.1 350.5,1849.2 101.6,1553.3" fill="#3a3aff"/>
<polygon points="555.2,1169.2 629.2,1167.7 628.8,1150.3 554.8,1151.8" fill="url(#rG)" stroke="#0c1a00" stroke-width="1.3"/>
<polygon points="470,1333.5 560,1333 560,1317 470,1317.5" fill="url(#rG)" stroke="#0c1a00" stroke-width="1.3"/>
<polygon points="470,1631 560,1630.5 560,1614.5 470,1615" fill="url(#rG)" stroke="#0c1a00" stroke-width="1.3"/>
<polygon points="585.2,1852.5 626.2,1851.5 625.8,1834.5 584.8,1835.5" fill="url(#rG)" stroke="#0c1a00" stroke-width="1.3"/>
<polygon points="575,1269.2 695,1268.7 695,1251.3 575,1251.8" fill="url(#rG)" stroke="#0c1a00" stroke-width="1.3"/>
<polygon points="600.2,1573.7 723.2,1570.7 722.8,1553.3 599.8,1556.3" fill="url(#rG)" stroke="#0c1a00" stroke-width="1.3"/>
<polygon points="575.1,1835.7 692.1,1833.7 691.9,1816.3 574.9,1818.3" fill="url(#rG)" stroke="#0c1a00" stroke-width="1.3"/>
<polygon points="600.2,1377.8 1107.2,1367.8 1106.8,1350.8 599.8,1360.8" fill="url(#rY)" stroke="#1a1800" stroke-width="1.3"/>
<polygon points="600.2,1676.5 1114.7,1664 1114.3,1647 599.8,1659.5" fill="url(#rY)" stroke="#1a1800" stroke-width="1.3"/>
<polygon points="1380.1,1158.2 1444.6,1157.7 1444.4,1140.3 1379.9,1140.8" fill="url(#rG)" stroke="#0c1a00" stroke-width="1.3"/>
<polygon points="1280,1318.5 1365,1318 1365,1302 1280,1302.5" fill="url(#rG)" stroke="#0c1a00" stroke-width="1.3"/>
<polygon points="1275.1,1609.8 1370.1,1609.2 1369.9,1593.2 1274.9,1593.8" fill="url(#rG)" stroke="#0c1a00" stroke-width="1.3"/>
<polygon points="1184.8,1833 1262.3,1830.5 1261.7,1814.5 1184.2,1817" fill="url(#rG)" stroke="#0c1a00" stroke-width="1.3"/>
<polygon points="1365.7,1290.4 1693.5,1462.4 1686.5,1475.6 1358.3,1304.6" fill="#5e005e"/>
<polygon points="1365.3,1291.3 1693.1,1463.2 1688.1,1472.7 1359.9,1301.5" fill="#de02e0"/>
<polygon points="1364.2,1293.2 1692.1,1465 1690.7,1467.7 1362.7,1296.1" fill="#f038f2"/>
<polygon points="1369,1593.2 1713.5,1483.9 1718.5,1500.1 1369,1607.8" fill="#5e005e"/>
<polygon points="1369,1594 1713.8,1484.9 1717.4,1496.5 1369,1604.6" fill="#de02e0"/>
<polygon points="1369,1596.1 1714.5,1487.1 1715.5,1490.4 1369,1599" fill="#f038f2"/>
<polygon points="1423.9,1813.3 1695.9,1511.3 1704.1,1518.7 1432.1,1820.7" fill="#5e005e"/>
<polygon points="1424.4,1813.8 1696.4,1511.8 1702.3,1517.1 1430.3,1819.1" fill="#de02e0"/>
<polygon points="1425.5,1814.8 1697.5,1512.8 1699.2,1514.3 1427.2,1816.3" fill="#f038f2"/>
<polygon points="1440,1256.2 1533,1255.7 1533,1238.3 1440,1238.8" fill="url(#rG)" stroke="#0c1a00" stroke-width="1.3"/>
<polygon points="1440.2,1551.7 1569.7,1548.7 1569.3,1531.3 1439.8,1534.3" fill="url(#rG)" stroke="#0c1a00" stroke-width="1.3"/>
<polygon points="1420.2,1808.2 1522.2,1806.2 1521.8,1788.8 1419.8,1790.8" fill="url(#rG)" stroke="#0c1a00" stroke-width="1.3"/>
<polygon points="1420.2,1820.5 1432.2,1820 1431.8,1810 1419.8,1810.5" fill="url(#rG)" stroke="#0c1a00" stroke-width="1.3"/>
<polygon points="1444.5,1140.3 1710.9,1464.8 1703.1,1471.2 1444.5,1157.7" fill="#3a003a"/>
<polygon points="1444.5,1141.4 1710.4,1465.2 1704.8,1469.8 1444.5,1153.8" fill="#a800aa"/>
<polygon points="1444.5,1143.8 1709.3,1466.1 1707.8,1467.4 1444.5,1147.3" fill="#bc14be"/>
<polygon points="1533,1238.6 1712.9,1466.1 1703.1,1473.9 1533,1256.4" fill="#3a003a"/>
<polygon points="1533,1239.7 1712.3,1466.6 1705.2,1472.2 1533,1252.5" fill="#a800aa"/>
<polygon points="1533,1242.2 1710.9,1467.7 1709,1469.2 1533,1245.7" fill="#bc14be"/>
<polygon points="1569.5,1531.5 1713,1482 1719,1500 1569.5,1549.5" fill="#5e005e"/>
<polygon points="1569.5,1532.6 1713.3,1483.1 1717.7,1496 1569.5,1545.5" fill="#de02e0"/>
<polygon points="1569.5,1535.1 1714.2,1485.6 1715.4,1489.2 1569.5,1538.7" fill="#f038f2"/>
<polygon points="1523,1787.9 1704.4,1513 1713.6,1519 1523,1806.1" fill="#5e005e"/>
<polygon points="1523,1789 1705,1513.3 1711.6,1517.7 1523,1802.1" fill="#de02e0"/>
<polygon points="1523,1791.6 1706.2,1514.2 1708.1,1515.4 1523,1795.2" fill="#f038f2"/>
<g>
<path d="M531.4,1517.7 L531.9,1535.6 L532.1,1553.5 L532.2,1571.3 L532.1,1589 L531.8,1606.4 L531.3,1623.6 L530.7,1640.5 L529.9,1657.1 L528.9,1673.3 L527.7,1689 L526.3,1704.3 L524.8,1719.1 L523.1,1733.4 L521.2,1747 L519.2,1760 L517.1,1772.4 L514.8,1784 L512.3,1795 L509.8,1805.1 L507.1,1814.5 L504.3,1823 L501.4,1830.8 L498.4,1837.6 L495.3,1843.6 L492.1,1848.7 L488.8,1852.9 L485.5,1856.2 L482.1,1858.5 L478.7,1859.9 L475.2,1860.4 L471.7,1859.9 L468.2,1858.5 L464.6,1856.2 L461.1,1852.9 L457.6,1848.7 L454.1,1843.6 L450.6,1837.6 L447.2,1830.8 L443.8,1823 L440.5,1814.5 L437.2,1805.1 L434.1,1795 L431,1784 L428,1772.4 L425,1760 L422.3,1747 L419.6,1733.4 L417,1719.1 L414.6,1704.3 L412.3,1689 L410.2,1673.3 L408.2,1657.1 L406.3,1640.5 L404.7,1623.6 L403.2,1606.4 L401.8,1589 L400.6,1571.3 L399.7,1553.5 L398.8,1535.6 L398.2,1517.7 L397.7,1499.8 L397.5,1481.9 L397.4,1464.1 L397.5,1446.4 L397.8,1429 L398.3,1411.8 L398.9,1394.9 L399.7,1378.3 L400.7,1362.1 L401.9,1346.3 L403.3,1331.1 L404.8,1316.3 L406.5,1302 L408.4,1288.4 L410.4,1275.4 L412.5,1263 L414.8,1251.4 L417.3,1240.4 L419.8,1230.3 L422.5,1220.9 L425.3,1212.4 L428.2,1204.6 L431.2,1197.8 L434.3,1191.8 L437.5,1186.7 L440.8,1182.5 L444.1,1179.2 L447.5,1176.9 L450.9,1175.5 L454.4,1175 L457.9,1175.5 L461.4,1176.9 L465,1179.2 L468.5,1182.5 L472,1186.7 L475.5,1191.8 L479,1197.8 L482.4,1204.6 L485.8,1212.4 L489.1,1220.9 L492.4,1230.3 L495.5,1240.4 L498.6,1251.4 L501.6,1263 L504.6,1275.4 L507.3,1288.4 L510,1302 L512.6,1316.3 L515,1331.1 L517.3,1346.3 L519.4,1362.1 L521.4,1378.3 L523.3,1394.9 L524.9,1411.8 L526.4,1429 L527.8,1446.4 L529,1464.1 L529.9,1481.9 L530.8,1499.8 L531.4,1517.7 Z M620.5,1517 L621,1534.9 L621.3,1552.7 L621.5,1570.5 L621.4,1588.1 L621.1,1605.5 L620.7,1622.7 L620,1639.6 L619.2,1656.1 L618.1,1672.3 L616.9,1688 L615.5,1703.3 L613.9,1718 L612.1,1732.2 L610.2,1745.8 L608,1758.8 L605.8,1771.2 L603.4,1782.8 L600.8,1793.7 L598.1,1803.8 L595.2,1813.2 L592.2,1821.7 L589.2,1829.4 L586,1836.3 L582.7,1842.3 L579.3,1847.3 L575.8,1851.5 L572.3,1854.8 L568.7,1857.1 L565,1858.5 L561.3,1859 L557.6,1858.5 L553.8,1857.1 L550,1854.8 L546.3,1851.5 L542.5,1847.3 L538.8,1842.3 L535.1,1836.3 L531.4,1829.4 L527.8,1821.7 L524.2,1813.2 L520.7,1803.8 L517.3,1793.7 L514,1782.8 L510.8,1771.2 L507.6,1758.8 L504.6,1745.8 L501.7,1732.2 L499,1718 L496.4,1703.3 L493.9,1688 L491.6,1672.3 L489.4,1656.1 L487.4,1639.6 L485.6,1622.7 L484,1605.5 L482.5,1588.1 L481.2,1570.5 L480.1,1552.7 L479.2,1534.9 L478.5,1517 L478,1499.1 L477.7,1481.3 L477.5,1463.5 L477.6,1445.9 L477.9,1428.5 L478.3,1411.3 L479,1394.4 L479.8,1377.9 L480.9,1361.7 L482.1,1346 L483.5,1330.7 L485.1,1316 L486.9,1301.8 L488.8,1288.2 L491,1275.2 L493.2,1262.8 L495.6,1251.2 L498.2,1240.3 L500.9,1230.2 L503.8,1220.8 L506.8,1212.3 L509.8,1204.6 L513,1197.7 L516.3,1191.7 L519.7,1186.7 L523.2,1182.5 L526.7,1179.2 L530.3,1176.9 L534,1175.5 L537.7,1175 L541.4,1175.5 L545.2,1176.9 L549,1179.2 L552.7,1182.5 L556.5,1186.7 L560.2,1191.7 L563.9,1197.7 L567.6,1204.6 L571.2,1212.3 L574.8,1220.8 L578.3,1230.2 L581.7,1240.3 L585,1251.2 L588.2,1262.8 L591.4,1275.2 L594.4,1288.2 L597.3,1301.8 L600,1316 L602.6,1330.7 L605.1,1346 L607.4,1361.7 L609.6,1377.9 L611.6,1394.4 L613.4,1411.3 L615,1428.5 L616.5,1445.9 L617.8,1463.5 L618.9,1481.3 L619.8,1499.1 L620.5,1517 Z" fill-rule="evenodd" fill="url(#ri1)" stroke="#061400" stroke-width="1.8" stroke-linejoin="round"/>
<path d="M537.4,1517.3 L537.9,1536.7 L538.2,1556.1 L538.3,1575.4 L538.2,1594.5 L537.8,1613.4 L537.3,1632 L536.6,1650.3 L535.7,1668.3 L534.6,1685.8 L533.3,1702.9 L531.8,1719.5 L530.1,1735.5 L528.3,1750.9 L526.3,1765.7 L524.1,1779.8 L521.7,1793.2 L519.2,1805.8 L516.6,1817.6 L513.8,1828.6 L510.8,1838.8 L507.8,1848 L504.6,1856.4 L501.3,1863.8 L497.9,1870.3 L494.5,1875.9 L490.9,1880.4 L487.3,1883.9 L483.6,1886.5 L479.8,1888 L476,1888.5 L472.2,1888 L468.4,1886.5 L464.6,1883.9 L460.7,1880.4 L456.9,1875.9 L453.1,1870.3 L449.3,1863.8 L445.5,1856.4 L441.9,1848 L438.2,1838.8 L434.7,1828.6 L431.2,1817.6 L427.9,1805.8 L424.6,1793.2 L421.4,1779.8 L418.4,1765.7 L415.5,1750.9 L412.7,1735.5 L410,1719.5 L407.6,1702.9 L405.2,1685.8 L403.1,1668.3 L401.1,1650.3 L399.2,1632 L397.6,1613.4 L396.1,1594.5 L394.9,1575.4 L393.8,1556.1 L392.9,1536.7 L392.2,1517.3 L391.7,1497.9 L391.4,1478.5 L391.3,1459.2 L391.4,1440.1 L391.8,1421.2 L392.3,1402.6 L393,1384.3 L393.9,1366.3 L395,1348.8 L396.3,1331.7 L397.8,1315.1 L399.5,1299.1 L401.3,1283.7 L403.3,1268.9 L405.5,1254.8 L407.9,1241.4 L410.4,1228.8 L413,1217 L415.8,1206 L418.8,1195.8 L421.8,1186.6 L425,1178.2 L428.3,1170.8 L431.7,1164.3 L435.1,1158.7 L438.7,1154.2 L442.3,1150.7 L446,1148.1 L449.8,1146.6 L453.6,1146.1 L457.4,1146.6 L461.2,1148.1 L465,1150.7 L468.9,1154.2 L472.7,1158.7 L476.5,1164.3 L480.3,1170.8 L484.1,1178.2 L487.7,1186.6 L491.4,1195.8 L494.9,1206 L498.4,1217 L501.7,1228.8 L505,1241.4 L508.2,1254.8 L511.2,1268.9 L514.1,1283.7 L516.9,1299.1 L519.6,1315.1 L522,1331.7 L524.4,1348.8 L526.5,1366.3 L528.5,1384.3 L530.4,1402.6 L532,1421.2 L533.5,1440.1 L534.7,1459.2 L535.8,1478.5 L536.7,1497.9 L537.4,1517.3 Z M531.4,1517.7 L531.9,1535.6 L532.1,1553.5 L532.2,1571.3 L532.1,1589 L531.8,1606.4 L531.3,1623.6 L530.7,1640.5 L529.9,1657.1 L528.9,1673.3 L527.7,1689 L526.3,1704.3 L524.8,1719.1 L523.1,1733.4 L521.2,1747 L519.2,1760 L517.1,1772.4 L514.8,1784 L512.3,1795 L509.8,1805.1 L507.1,1814.5 L504.3,1823 L501.4,1830.8 L498.4,1837.6 L495.3,1843.6 L492.1,1848.7 L488.8,1852.9 L485.5,1856.2 L482.1,1858.5 L478.7,1859.9 L475.2,1860.4 L471.7,1859.9 L468.2,1858.5 L464.6,1856.2 L461.1,1852.9 L457.6,1848.7 L454.1,1843.6 L450.6,1837.6 L447.2,1830.8 L443.8,1823 L440.5,1814.5 L437.2,1805.1 L434.1,1795 L431,1784 L428,1772.4 L425,1760 L422.3,1747 L419.6,1733.4 L417,1719.1 L414.6,1704.3 L412.3,1689 L410.2,1673.3 L408.2,1657.1 L406.3,1640.5 L404.7,1623.6 L403.2,1606.4 L401.8,1589 L400.6,1571.3 L399.7,1553.5 L398.8,1535.6 L398.2,1517.7 L397.7,1499.8 L397.5,1481.9 L397.4,1464.1 L397.5,1446.4 L397.8,1429 L398.3,1411.8 L398.9,1394.9 L399.7,1378.3 L400.7,1362.1 L401.9,1346.3 L403.3,1331.1 L404.8,1316.3 L406.5,1302 L408.4,1288.4 L410.4,1275.4 L412.5,1263 L414.8,1251.4 L417.3,1240.4 L419.8,1230.3 L422.5,1220.9 L425.3,1212.4 L428.2,1204.6 L431.2,1197.8 L434.3,1191.8 L437.5,1186.7 L440.8,1182.5 L444.1,1179.2 L447.5,1176.9 L450.9,1175.5 L454.4,1175 L457.9,1175.5 L461.4,1176.9 L465,1179.2 L468.5,1182.5 L472,1186.7 L475.5,1191.8 L479,1197.8 L482.4,1204.6 L485.8,1212.4 L489.1,1220.9 L492.4,1230.3 L495.5,1240.4 L498.6,1251.4 L501.6,1263 L504.6,1275.4 L507.3,1288.4 L510,1302 L512.6,1316.3 L515,1331.1 L517.3,1346.3 L519.4,1362.1 L521.4,1378.3 L523.3,1394.9 L524.9,1411.8 L526.4,1429 L527.8,1446.4 L529,1464.1 L529.9,1481.9 L530.8,1499.8 L531.4,1517.7 Z" fill-rule="evenodd" fill="url(#ra1)" stroke="#061400" stroke-width="1.8" stroke-linejoin="round"/>
<path d="M476,1888.5 L473.2,1888.2 L470.3,1887.4 L467.4,1885.9 L464.6,1883.9 L461.7,1881.4 L458.8,1878.2 L455.9,1874.6 L453.1,1870.3 L450.2,1865.6 L447.4,1860.2 L444.6,1854.4 L441.9,1848 L439.1,1841.2 L436.5,1833.8 L433.8,1825.9 L431.2,1817.6 L428.7,1808.8 L426.2,1799.6 L423.8,1789.9 L421.4,1779.8 L419.1,1769.3 L416.9,1758.4 L414.7,1747.1 L412.7,1735.5 L410.7,1723.5 L408.8,1711.3 L407,1698.7 L405.2,1685.8 L403.6,1672.7 L402,1659.4 L400.6,1645.8 L399.2,1632 L398,1618.1 L396.8,1604 L395.8,1589.7 L394.9,1575.4 L394,1560.9 L393.3,1546.4 L392.7,1531.9 L392.2,1517.3 L391.8,1502.7 L391.5,1488.2 L391.4,1473.7 L391.3,1459.2 L391.4,1444.9 L391.6,1430.6 L391.9,1416.5 L392.3,1402.6 L392.8,1388.8 L393.4,1375.2 L394.2,1361.9 L395,1348.8 L396,1335.9 L397,1323.3 L398.2,1311.1 L399.5,1299.1 L400.8,1287.5 L402.3,1276.2 L403.9,1265.3 L405.5,1254.8 L407.3,1244.7 L409.1,1235 L411,1225.8 L413,1217 L415.1,1208.7 L417.3,1200.8 L419.5,1193.4 L421.8,1186.6 L424.2,1180.2 L426.6,1174.4 L429.1,1169 L431.7,1164.3 L434.3,1160 L436.9,1156.4 L439.6,1153.2 L442.3,1150.7 L445.1,1148.7 L447.9,1147.2 L450.7,1146.4 L453.6,1146.1 L536.2,1145 L539.2,1145.3 L542.2,1146.1 L545.2,1147.6 L548.3,1149.6 L551.3,1152.1 L554.3,1155.2 L557.3,1158.9 L560.3,1163.1 L563.3,1167.9 L566.3,1173.2 L569.2,1179 L572.1,1185.4 L575,1192.2 L577.8,1199.6 L580.6,1207.4 L583.3,1215.8 L586,1224.5 L588.6,1233.8 L591.2,1243.4 L593.7,1253.5 L596.1,1264 L598.5,1274.9 L600.8,1286.1 L603,1297.7 L605.1,1309.7 L607.1,1321.9 L609.1,1334.5 L610.9,1347.3 L612.7,1360.4 L614.3,1373.7 L615.9,1387.3 L617.3,1401 L618.7,1414.9 L619.9,1429 L621,1443.2 L622.1,1457.5 L623,1472 L623.8,1486.4 L624.4,1501 L625,1515.5 L625.4,1530 L625.8,1544.6 L626,1559 L626.1,1573.5 L626,1587.8 L625.9,1602 L625.6,1616.1 L625.2,1630 L624.7,1643.7 L624.1,1657.3 L623.4,1670.6 L622.5,1683.7 L621.6,1696.5 L620.5,1709.1 L619.3,1721.3 L618,1733.3 L616.6,1744.9 L615.1,1756.1 L613.5,1767 L611.8,1777.5 L610,1787.6 L608.1,1797.2 L606.1,1806.5 L604,1815.2 L601.9,1823.6 L599.6,1831.4 L597.3,1838.8 L594.9,1845.6 L592.4,1852 L589.9,1857.8 L587.3,1863.1 L584.6,1867.9 L581.9,1872.1 L579.2,1875.8 L576.4,1878.9 L573.5,1881.4 L570.6,1883.4 L567.7,1884.9 L564.8,1885.7 L561.8,1886 Z M537.4,1517.3 L537.9,1536.7 L538.2,1556.1 L538.3,1575.4 L538.2,1594.5 L537.8,1613.4 L537.3,1632 L536.6,1650.3 L535.7,1668.3 L534.6,1685.8 L533.3,1702.9 L531.8,1719.5 L530.1,1735.5 L528.3,1750.9 L526.3,1765.7 L524.1,1779.8 L521.7,1793.2 L519.2,1805.8 L516.6,1817.6 L513.8,1828.6 L510.8,1838.8 L507.8,1848 L504.6,1856.4 L501.3,1863.8 L497.9,1870.3 L494.5,1875.9 L490.9,1880.4 L487.3,1883.9 L483.6,1886.5 L479.8,1888 L476,1888.5 L472.2,1888 L468.4,1886.5 L464.6,1883.9 L460.7,1880.4 L456.9,1875.9 L453.1,1870.3 L449.3,1863.8 L445.5,1856.4 L441.9,1848 L438.2,1838.8 L434.7,1828.6 L431.2,1817.6 L427.9,1805.8 L424.6,1793.2 L421.4,1779.8 L418.4,1765.7 L415.5,1750.9 L412.7,1735.5 L410,1719.5 L407.6,1702.9 L405.2,1685.8 L403.1,1668.3 L401.1,1650.3 L399.2,1632 L397.6,1613.4 L396.1,1594.5 L394.9,1575.4 L393.8,1556.1 L392.9,1536.7 L392.2,1517.3 L391.7,1497.9 L391.4,1478.5 L391.3,1459.2 L391.4,1440.1 L391.8,1421.2 L392.3,1402.6 L393,1384.3 L393.9,1366.3 L395,1348.8 L396.3,1331.7 L397.8,1315.1 L399.5,1299.1 L401.3,1283.7 L403.3,1268.9 L405.5,1254.8 L407.9,1241.4 L410.4,1228.8 L413,1217 L415.8,1206 L418.8,1195.8 L421.8,1186.6 L425,1178.2 L428.3,1170.8 L431.7,1164.3 L435.1,1158.7 L438.7,1154.2 L442.3,1150.7 L446,1148.1 L449.8,1146.6 L453.6,1146.1 L457.4,1146.6 L461.2,1148.1 L465,1150.7 L468.9,1154.2 L472.7,1158.7 L476.5,1164.3 L480.3,1170.8 L484.1,1178.2 L487.7,1186.6 L491.4,1195.8 L494.9,1206 L498.4,1217 L501.7,1228.8 L505,1241.4 L508.2,1254.8 L511.2,1268.9 L514.1,1283.7 L516.9,1299.1 L519.6,1315.1 L522,1331.7 L524.4,1348.8 L526.5,1366.3 L528.5,1384.3 L530.4,1402.6 L532,1421.2 L533.5,1440.1 L534.7,1459.2 L535.8,1478.5 L536.7,1497.9 L537.4,1517.3 Z" fill-rule="evenodd" fill="url(#ro1)" stroke="#061400" stroke-width="1.8" stroke-linejoin="round"/>
<path d="M566,1241 C567.1,1249.8 569.9,1269 572.5,1294 C575.1,1319 579.3,1358.3 581.5,1391 C583.7,1423.7 585,1461 585.5,1490 C586,1519 585.2,1540 584.5,1565 C583.8,1590 581.6,1627.5 581,1640" fill="none" stroke="#ffff00" stroke-width="29" stroke-linecap="round"/>
<polygon points="544,1637 566,1641.5 593,1643.5 614,1644 571,1722.5" fill="#ffff00"/>
</g>
<g>
<path d="M1383,1497.5 L1383.4,1515 L1383.6,1532.5 L1383.5,1549.9 L1383.1,1567.2 L1382.5,1584.2 L1381.7,1601 L1380.5,1617.6 L1379.2,1633.8 L1377.6,1649.6 L1375.7,1665 L1373.7,1680 L1371.3,1694.4 L1368.8,1708.3 L1366.1,1721.7 L1363.1,1734.4 L1359.9,1746.5 L1356.6,1757.8 L1353.1,1768.5 L1349.4,1778.5 L1345.5,1787.6 L1341.5,1796 L1337.3,1803.5 L1333,1810.2 L1328.6,1816.1 L1324.1,1821.1 L1319.5,1825.2 L1314.8,1828.4 L1310,1830.7 L1305.2,1832 L1300.4,1832.5 L1295.5,1832 L1290.6,1830.7 L1285.7,1828.4 L1280.8,1825.2 L1276,1821.1 L1271.1,1816.1 L1266.4,1810.2 L1261.7,1803.5 L1257,1796 L1252.5,1787.6 L1248.1,1778.5 L1243.7,1768.5 L1239.5,1757.8 L1235.5,1746.5 L1231.6,1734.4 L1227.8,1721.7 L1224.3,1708.3 L1220.9,1694.4 L1217.7,1680 L1214.7,1665 L1211.9,1649.6 L1209.3,1633.8 L1206.9,1617.6 L1204.8,1601 L1202.9,1584.2 L1201.2,1567.2 L1199.8,1549.9 L1198.6,1532.5 L1197.7,1515 L1197,1497.5 L1196.6,1480 L1196.4,1462.5 L1196.5,1445.1 L1196.9,1427.8 L1197.5,1410.8 L1198.3,1394 L1199.5,1377.4 L1200.8,1361.2 L1202.4,1345.4 L1204.3,1330 L1206.3,1315 L1208.7,1300.6 L1211.2,1286.7 L1213.9,1273.3 L1216.9,1260.6 L1220.1,1248.5 L1223.4,1237.2 L1226.9,1226.5 L1230.6,1216.5 L1234.5,1207.4 L1238.5,1199 L1242.7,1191.5 L1247,1184.8 L1251.4,1178.9 L1255.9,1173.9 L1260.5,1169.8 L1265.2,1166.6 L1270,1164.3 L1274.8,1163 L1279.6,1162.5 L1284.5,1163 L1289.4,1164.3 L1294.3,1166.6 L1299.2,1169.8 L1304,1173.9 L1308.9,1178.9 L1313.6,1184.8 L1318.3,1191.5 L1323,1199 L1327.5,1207.4 L1331.9,1216.5 L1336.3,1226.5 L1340.5,1237.2 L1344.5,1248.5 L1348.4,1260.6 L1352.2,1273.3 L1355.7,1286.7 L1359.1,1300.6 L1362.3,1315 L1365.3,1330 L1368.1,1345.4 L1370.7,1361.2 L1373.1,1377.4 L1375.2,1394 L1377.1,1410.8 L1378.8,1427.8 L1380.2,1445.1 L1381.4,1462.5 L1382.3,1480 L1383,1497.5 Z M1469,1497.5 L1469.1,1515 L1469,1532.5 L1468.5,1549.9 L1467.8,1567.2 L1466.9,1584.2 L1465.7,1601 L1464.2,1617.6 L1462.4,1633.8 L1460.4,1649.6 L1458.2,1665 L1455.7,1680 L1453,1694.4 L1450.1,1708.3 L1447,1721.7 L1443.6,1734.4 L1440.1,1746.5 L1436.3,1757.8 L1432.4,1768.5 L1428.3,1778.5 L1424.1,1787.6 L1419.7,1796 L1415.1,1803.5 L1410.5,1810.2 L1405.7,1816.1 L1400.9,1821.1 L1396,1825.2 L1391,1828.4 L1385.9,1830.7 L1380.8,1832 L1375.7,1832.5 L1370.6,1832 L1365.4,1830.7 L1360.3,1828.4 L1355.2,1825.2 L1350.2,1821.1 L1345.2,1816.1 L1340.3,1810.2 L1335.4,1803.5 L1330.7,1796 L1326.1,1787.6 L1321.6,1778.5 L1317.2,1768.5 L1313,1757.8 L1308.9,1746.5 L1305,1734.4 L1301.3,1721.7 L1297.8,1708.3 L1294.5,1694.4 L1291.4,1680 L1288.5,1665 L1285.8,1649.6 L1283.4,1633.8 L1281.2,1617.6 L1279.2,1601 L1277.6,1584.2 L1276.1,1567.2 L1274.9,1549.9 L1274,1532.5 L1273.4,1515 L1273,1497.5 L1272.9,1480 L1273,1462.5 L1273.5,1445.1 L1274.2,1427.8 L1275.1,1410.8 L1276.3,1394 L1277.8,1377.4 L1279.6,1361.2 L1281.6,1345.4 L1283.8,1330 L1286.3,1315 L1289,1300.6 L1291.9,1286.7 L1295,1273.3 L1298.4,1260.6 L1301.9,1248.5 L1305.7,1237.2 L1309.6,1226.5 L1313.7,1216.5 L1317.9,1207.4 L1322.3,1199 L1326.9,1191.5 L1331.5,1184.8 L1336.3,1178.9 L1341.1,1173.9 L1346,1169.8 L1351,1166.6 L1356.1,1164.3 L1361.2,1163 L1366.3,1162.5 L1371.4,1163 L1376.6,1164.3 L1381.7,1166.6 L1386.8,1169.8 L1391.8,1173.9 L1396.8,1178.9 L1401.7,1184.8 L1406.6,1191.5 L1411.3,1199 L1415.9,1207.4 L1420.4,1216.5 L1424.8,1226.5 L1429,1237.2 L1433.1,1248.5 L1437,1260.6 L1440.7,1273.3 L1444.2,1286.7 L1447.5,1300.6 L1450.6,1315 L1453.5,1330 L1456.2,1345.4 L1458.6,1361.2 L1460.8,1377.4 L1462.8,1394 L1464.4,1410.8 L1465.9,1427.8 L1467.1,1445.1 L1468,1462.5 L1468.6,1480 L1469,1497.5 Z" fill-rule="evenodd" fill="url(#ri2)" stroke="#061400" stroke-width="1.8" stroke-linejoin="round"/>
<path d="M1388.2,1498.2 L1388.7,1517.2 L1388.8,1536.2 L1388.7,1555 L1388.4,1573.7 L1387.7,1592.2 L1386.8,1610.4 L1385.6,1628.4 L1384.1,1645.9 L1382.4,1663.1 L1380.4,1679.8 L1378.2,1696 L1375.7,1711.7 L1373,1726.8 L1370,1741.2 L1366.9,1755 L1363.5,1768.1 L1359.9,1780.5 L1356.1,1792 L1352.1,1802.8 L1348,1812.7 L1343.6,1821.8 L1339.2,1830 L1334.5,1837.3 L1329.8,1843.6 L1325,1849 L1320,1853.5 L1315,1856.9 L1309.9,1859.4 L1304.7,1860.9 L1299.5,1861.4 L1294.2,1860.9 L1288.9,1859.4 L1283.7,1856.9 L1278.4,1853.5 L1273.2,1849 L1268,1843.6 L1262.9,1837.3 L1257.8,1830 L1252.8,1821.8 L1248,1812.7 L1243.2,1802.8 L1238.5,1792 L1234,1780.5 L1229.7,1768.1 L1225.5,1755 L1221.4,1741.2 L1217.6,1726.8 L1213.9,1711.7 L1210.5,1696 L1207.2,1679.8 L1204.2,1663.1 L1201.4,1645.9 L1198.9,1628.4 L1196.6,1610.4 L1194.5,1592.2 L1192.7,1573.7 L1191.2,1555 L1189.9,1536.2 L1188.9,1517.2 L1188.2,1498.2 L1187.7,1479.2 L1187.6,1460.2 L1187.7,1441.4 L1188,1422.7 L1188.7,1404.2 L1189.6,1386 L1190.8,1368 L1192.3,1350.5 L1194,1333.3 L1196,1316.6 L1198.2,1300.4 L1200.7,1284.7 L1203.4,1269.6 L1206.4,1255.2 L1209.5,1241.4 L1212.9,1228.3 L1216.5,1215.9 L1220.3,1204.4 L1224.3,1193.6 L1228.4,1183.7 L1232.8,1174.6 L1237.2,1166.4 L1241.9,1159.1 L1246.6,1152.8 L1251.4,1147.4 L1256.4,1142.9 L1261.4,1139.5 L1266.5,1137 L1271.7,1135.5 L1276.9,1135 L1282.2,1135.5 L1287.5,1137 L1292.7,1139.5 L1298,1142.9 L1303.2,1147.4 L1308.4,1152.8 L1313.5,1159.1 L1318.6,1166.4 L1323.6,1174.6 L1328.4,1183.7 L1333.2,1193.6 L1337.9,1204.4 L1342.4,1215.9 L1346.7,1228.3 L1350.9,1241.4 L1355,1255.2 L1358.8,1269.6 L1362.5,1284.7 L1365.9,1300.4 L1369.2,1316.6 L1372.2,1333.3 L1375,1350.5 L1377.5,1368 L1379.8,1386 L1381.9,1404.2 L1383.7,1422.7 L1385.2,1441.4 L1386.5,1460.2 L1387.5,1479.2 L1388.2,1498.2 Z M1383,1497.5 L1383.4,1515 L1383.6,1532.5 L1383.5,1549.9 L1383.1,1567.2 L1382.5,1584.2 L1381.7,1601 L1380.5,1617.6 L1379.2,1633.8 L1377.6,1649.6 L1375.7,1665 L1373.7,1680 L1371.3,1694.4 L1368.8,1708.3 L1366.1,1721.7 L1363.1,1734.4 L1359.9,1746.5 L1356.6,1757.8 L1353.1,1768.5 L1349.4,1778.5 L1345.5,1787.6 L1341.5,1796 L1337.3,1803.5 L1333,1810.2 L1328.6,1816.1 L1324.1,1821.1 L1319.5,1825.2 L1314.8,1828.4 L1310,1830.7 L1305.2,1832 L1300.4,1832.5 L1295.5,1832 L1290.6,1830.7 L1285.7,1828.4 L1280.8,1825.2 L1276,1821.1 L1271.1,1816.1 L1266.4,1810.2 L1261.7,1803.5 L1257,1796 L1252.5,1787.6 L1248.1,1778.5 L1243.7,1768.5 L1239.5,1757.8 L1235.5,1746.5 L1231.6,1734.4 L1227.8,1721.7 L1224.3,1708.3 L1220.9,1694.4 L1217.7,1680 L1214.7,1665 L1211.9,1649.6 L1209.3,1633.8 L1206.9,1617.6 L1204.8,1601 L1202.9,1584.2 L1201.2,1567.2 L1199.8,1549.9 L1198.6,1532.5 L1197.7,1515 L1197,1497.5 L1196.6,1480 L1196.4,1462.5 L1196.5,1445.1 L1196.9,1427.8 L1197.5,1410.8 L1198.3,1394 L1199.5,1377.4 L1200.8,1361.2 L1202.4,1345.4 L1204.3,1330 L1206.3,1315 L1208.7,1300.6 L1211.2,1286.7 L1213.9,1273.3 L1216.9,1260.6 L1220.1,1248.5 L1223.4,1237.2 L1226.9,1226.5 L1230.6,1216.5 L1234.5,1207.4 L1238.5,1199 L1242.7,1191.5 L1247,1184.8 L1251.4,1178.9 L1255.9,1173.9 L1260.5,1169.8 L1265.2,1166.6 L1270,1164.3 L1274.8,1163 L1279.6,1162.5 L1284.5,1163 L1289.4,1164.3 L1294.3,1166.6 L1299.2,1169.8 L1304,1173.9 L1308.9,1178.9 L1313.6,1184.8 L1318.3,1191.5 L1323,1199 L1327.5,1207.4 L1331.9,1216.5 L1336.3,1226.5 L1340.5,1237.2 L1344.5,1248.5 L1348.4,1260.6 L1352.2,1273.3 L1355.7,1286.7 L1359.1,1300.6 L1362.3,1315 L1365.3,1330 L1368.1,1345.4 L1370.7,1361.2 L1373.1,1377.4 L1375.2,1394 L1377.1,1410.8 L1378.8,1427.8 L1380.2,1445.1 L1381.4,1462.5 L1382.3,1480 L1383,1497.5 Z" fill-rule="evenodd" fill="url(#ra2)" stroke="#061400" stroke-width="1.8" stroke-linejoin="round"/>
<path d="M1299.5,1861.4 L1295.5,1861.1 L1291.6,1860.3 L1287.6,1858.9 L1283.7,1856.9 L1279.7,1854.4 L1275.8,1851.4 L1271.9,1847.8 L1268,1843.6 L1264.2,1839 L1260.3,1833.8 L1256.6,1828 L1252.8,1821.8 L1249.2,1815.1 L1245.6,1807.9 L1242,1800.2 L1238.5,1792 L1235.1,1783.4 L1231.8,1774.4 L1228.6,1764.9 L1225.5,1755 L1222.4,1744.7 L1219.5,1734.1 L1216.6,1723.1 L1213.9,1711.7 L1211.3,1700 L1208.8,1688 L1206.5,1675.7 L1204.2,1663.1 L1202.1,1650.3 L1200.1,1637.2 L1198.3,1623.9 L1196.6,1610.4 L1195,1596.8 L1193.6,1583 L1192.3,1569.1 L1191.2,1555 L1190.2,1540.9 L1189.4,1526.7 L1188.7,1512.5 L1188.2,1498.2 L1187.8,1483.9 L1187.6,1469.7 L1187.6,1455.5 L1187.7,1441.4 L1187.9,1427.3 L1188.3,1413.4 L1188.9,1399.6 L1189.6,1386 L1190.5,1372.5 L1191.5,1359.2 L1192.7,1346.1 L1194,1333.3 L1195.4,1320.7 L1197.1,1308.4 L1198.8,1296.4 L1200.7,1284.7 L1202.7,1273.3 L1204.8,1262.3 L1207.1,1251.7 L1209.5,1241.4 L1212.1,1231.5 L1214.7,1222 L1217.4,1213 L1220.3,1204.4 L1223.3,1196.2 L1226.4,1188.5 L1229.5,1181.3 L1232.8,1174.6 L1236.1,1168.4 L1239.5,1162.6 L1243,1157.4 L1246.6,1152.8 L1250.2,1148.6 L1253.9,1145 L1257.6,1142 L1261.4,1139.5 L1265.3,1137.5 L1269.1,1136.1 L1273,1135.3 L1276.9,1135 L1370.9,1134 L1374.8,1134.3 L1378.7,1135.1 L1382.6,1136.5 L1386.5,1138.5 L1390.3,1141 L1394.2,1144 L1398,1147.6 L1401.8,1151.7 L1405.5,1156.4 L1409.2,1161.6 L1412.8,1167.3 L1416.4,1173.5 L1420,1180.2 L1423.4,1187.3 L1426.8,1195 L1430.1,1203.1 L1433.3,1211.7 L1436.4,1220.7 L1439.5,1230.2 L1442.4,1240 L1445.3,1250.3 L1448,1260.9 L1450.6,1271.9 L1453.1,1283.2 L1455.5,1294.9 L1457.8,1306.9 L1459.9,1319.1 L1461.9,1331.7 L1463.8,1344.4 L1465.5,1357.5 L1467.1,1370.7 L1468.6,1384.1 L1469.9,1397.7 L1471.1,1411.5 L1472.1,1425.4 L1473,1439.4 L1473.7,1453.5 L1474.3,1467.6 L1474.7,1481.8 L1475,1496 L1475.1,1510.2 L1475.1,1524.4 L1474.9,1538.5 L1474.6,1552.6 L1474.1,1566.6 L1473.4,1580.5 L1472.7,1594.3 L1471.7,1607.9 L1470.6,1621.3 L1469.4,1634.5 L1468,1647.6 L1466.5,1660.3 L1464.9,1672.9 L1463.1,1685.1 L1461.1,1697.1 L1459.1,1708.8 L1456.9,1720.1 L1454.6,1731.1 L1452.1,1741.7 L1449.6,1752 L1446.9,1761.8 L1444.1,1771.3 L1441.3,1780.3 L1438.3,1788.9 L1435.2,1797 L1432,1804.7 L1428.8,1811.8 L1425.5,1818.5 L1422,1824.7 L1418.6,1830.4 L1415,1835.6 L1411.4,1840.3 L1407.8,1844.4 L1404,1848 L1400.3,1851 L1396.5,1853.5 L1392.7,1855.5 L1388.8,1856.9 L1385,1857.7 L1381.1,1858 Z M1388.2,1498.2 L1388.7,1517.2 L1388.8,1536.2 L1388.7,1555 L1388.4,1573.7 L1387.7,1592.2 L1386.8,1610.4 L1385.6,1628.4 L1384.1,1645.9 L1382.4,1663.1 L1380.4,1679.8 L1378.2,1696 L1375.7,1711.7 L1373,1726.8 L1370,1741.2 L1366.9,1755 L1363.5,1768.1 L1359.9,1780.5 L1356.1,1792 L1352.1,1802.8 L1348,1812.7 L1343.6,1821.8 L1339.2,1830 L1334.5,1837.3 L1329.8,1843.6 L1325,1849 L1320,1853.5 L1315,1856.9 L1309.9,1859.4 L1304.7,1860.9 L1299.5,1861.4 L1294.2,1860.9 L1288.9,1859.4 L1283.7,1856.9 L1278.4,1853.5 L1273.2,1849 L1268,1843.6 L1262.9,1837.3 L1257.8,1830 L1252.8,1821.8 L1248,1812.7 L1243.2,1802.8 L1238.5,1792 L1234,1780.5 L1229.7,1768.1 L1225.5,1755 L1221.4,1741.2 L1217.6,1726.8 L1213.9,1711.7 L1210.5,1696 L1207.2,1679.8 L1204.2,1663.1 L1201.4,1645.9 L1198.9,1628.4 L1196.6,1610.4 L1194.5,1592.2 L1192.7,1573.7 L1191.2,1555 L1189.9,1536.2 L1188.9,1517.2 L1188.2,1498.2 L1187.7,1479.2 L1187.6,1460.2 L1187.7,1441.4 L1188,1422.7 L1188.7,1404.2 L1189.6,1386 L1190.8,1368 L1192.3,1350.5 L1194,1333.3 L1196,1316.6 L1198.2,1300.4 L1200.7,1284.7 L1203.4,1269.6 L1206.4,1255.2 L1209.5,1241.4 L1212.9,1228.3 L1216.5,1215.9 L1220.3,1204.4 L1224.3,1193.6 L1228.4,1183.7 L1232.8,1174.6 L1237.2,1166.4 L1241.9,1159.1 L1246.6,1152.8 L1251.4,1147.4 L1256.4,1142.9 L1261.4,1139.5 L1266.5,1137 L1271.7,1135.5 L1276.9,1135 L1282.2,1135.5 L1287.5,1137 L1292.7,1139.5 L1298,1142.9 L1303.2,1147.4 L1308.4,1152.8 L1313.5,1159.1 L1318.6,1166.4 L1323.6,1174.6 L1328.4,1183.7 L1333.2,1193.6 L1337.9,1204.4 L1342.4,1215.9 L1346.7,1228.3 L1350.9,1241.4 L1355,1255.2 L1358.8,1269.6 L1362.5,1284.7 L1365.9,1300.4 L1369.2,1316.6 L1372.2,1333.3 L1375,1350.5 L1377.5,1368 L1379.8,1386 L1381.9,1404.2 L1383.7,1422.7 L1385.2,1441.4 L1386.5,1460.2 L1387.5,1479.2 L1388.2,1498.2 Z" fill-rule="evenodd" fill="url(#ro2)" stroke="#061400" stroke-width="1.8" stroke-linejoin="round"/>
<path d="M1409,1241.5 C1410.2,1249.6 1412.8,1265.2 1416,1290 C1419.2,1314.8 1425.3,1359.2 1428,1390 C1430.7,1420.8 1431.5,1446.7 1432,1475 C1432.5,1503.3 1431.8,1532.5 1431,1560 C1430.2,1587.5 1428.1,1626.7 1427.5,1640" fill="none" stroke="#ffff00" stroke-width="29.5" stroke-linecap="round"/>
<polygon points="1392,1637 1414,1641.5 1445,1644 1462,1645 1418,1722.5" fill="#ffff00"/>
</g>
<polygon points="112,1523.9 436,1559.2 436,1576.4 110.5,1536.8" fill="#000058"/>
<polygon points="111.9,1524.7 436,1560.3 436,1572.6 110.9,1534" fill="#0000f2"/>
<polygon points="111.7,1526.5 436,1562.7 436,1566.1 111.4,1529.1" fill="#3a3aff"/>
<polygon points="101.7,1499.1 409,1256.6 409,1273.8 109.8,1509.3" fill="#000058"/>
<polygon points="102.2,1499.7 409,1257.6 409,1270 108,1507.1" fill="#0000f2"/>
<polygon points="103.4,1501.2 409,1260 409,1263.5 105,1503.2" fill="#3a3aff"/>
<polygon points="108.4,1546.1 409,1821.8 409,1840.8 99.6,1555.7" fill="#000058"/>
<polygon points="107.9,1546.7 409,1822.9 409,1836.6 101.5,1553.5" fill="#0000f2"/>
<polygon points="106.6,1548 409,1825.6 409,1829.4 104.9,1549.9" fill="#3a3aff"/>
<polygon points="349,1172.2 447.5,1172.2 447.5,1154.8 349,1154.8" fill="url(#rG)" stroke="#0c1a00" stroke-width="1.3"/>
<polygon points="305,1336.2 400,1336.2 400,1318.8 305,1318.8" fill="url(#rG)" stroke="#0c1a00" stroke-width="1.3"/>
<polygon points="305,1633.8 400,1633.8 400,1616.2 305,1616.2" fill="url(#rG)" stroke="#0c1a00" stroke-width="1.3"/>
<polygon points="349,1859.7 445,1859.2 445,1841.8 349,1842.3" fill="url(#rG)" stroke="#0c1a00" stroke-width="1.3"/>
<polygon points="407.5,1273.8 509,1273.8 509,1256.2 407.5,1256.2" fill="url(#rG)" stroke="#0c1a00" stroke-width="1.3"/>
<polygon points="434,1576.2 535,1576.2 535,1558.8 434,1558.8" fill="url(#rG)" stroke="#0c1a00" stroke-width="1.3"/>
<polygon points="407.6,1839.7 505.1,1838.7 504.9,1821.3 407.4,1822.3" fill="url(#rG)" stroke="#0c1a00" stroke-width="1.3"/>
<polygon points="1192.1,1160.2 1271.1,1159.2 1270.9,1141.8 1191.9,1142.8" fill="url(#rG)" stroke="#0c1a00" stroke-width="1.3"/>
<polygon points="1129.6,1321.2 1204.6,1320.7 1204.4,1303.3 1129.4,1303.8" fill="url(#rG)" stroke="#0c1a00" stroke-width="1.3"/>
<polygon points="1124.6,1613.7 1200.5,1613.2 1200.3,1595.8 1124.4,1596.3" fill="url(#rG)" stroke="#0c1a00" stroke-width="1.3"/>
<polygon points="1255.5,1259.7 1354.5,1259.2 1354.5,1241.8 1255.5,1242.3" fill="url(#rG)" stroke="#0c1a00" stroke-width="1.3"/>
<polygon points="1289.7,1556.7 1389.2,1554.2 1388.8,1536.8 1289.3,1539.3" fill="url(#rG)" stroke="#0c1a00" stroke-width="1.3"/>
<polygon points="1247.2,1814.7 1345.2,1812.2 1344.8,1794.8 1246.8,1797.3" fill="url(#rG)" stroke="#0c1a00" stroke-width="1.3"/>
<polygon points="632.1,1179.5 1158.1,1170.8 1157.9,1153.8 631.9,1162.5" fill="url(#rY)" stroke="#1a1800" stroke-width="1.3"/>
<circle cx="616" cy="1175.5" r="19.5" fill="url(#kS)"/>
<circle cx="1161" cy="1163.5" r="19.5" fill="url(#kS)"/>
<polygon points="684.1,1233 1245.6,1224.3 1245.4,1207.3 683.9,1216" fill="url(#rY)" stroke="#1a1800" stroke-width="1.3"/>
<polygon points="721.7,1514 1290.7,1501.8 1290.3,1484.8 721.3,1497" fill="url(#rY)" stroke="#1a1800" stroke-width="1.3"/>
<circle cx="692" cy="1825" r="19.5" fill="url(#kS)"/>
<circle cx="627" cy="1853" r="19.5" fill="url(#kS)"/>
<circle cx="1166" cy="1824.4" r="19.5" fill="url(#kS)"/>
<circle cx="1247" cy="1806" r="19.5" fill="url(#kS)"/>
<polygon points="698.7,1801 1261.2,1785 1260.8,1768 698.3,1784" fill="url(#rY)" stroke="#1a1800" stroke-width="1.3"/>
<polygon points="634.8,1869 1181.3,1850.5 1180.7,1833.5 634.2,1852" fill="url(#rY)" stroke="#1a1800" stroke-width="1.3"/>
<circle cx="682.8" cy="1224.3" r="19.5" fill="url(#kS)"/>
<circle cx="695" cy="1260.5" r="19.5" fill="url(#kS)"/>
<circle cx="629" cy="1160" r="19.5" fill="url(#kS)"/>
<circle cx="1174.5" cy="1151.5" r="19.5" fill="url(#kS)"/>
<circle cx="1245.5" cy="1215" r="19.5" fill="url(#kS)"/>
<circle cx="1255.5" cy="1251" r="19.5" fill="url(#kS)"/>
<circle cx="1110.5" cy="1313" r="19.5" fill="url(#kS)"/>
<circle cx="1107" cy="1359" r="19.5" fill="url(#kS)"/>
<circle cx="721.5" cy="1505.5" r="19.5" fill="url(#kS)"/>
<circle cx="724" cy="1561.5" r="19.5" fill="url(#kS)"/>
<circle cx="1290.6" cy="1493.5" r="19.5" fill="url(#kS)"/>
<circle cx="1288.7" cy="1548.3" r="19.5" fill="url(#kS)"/>
<circle cx="1107" cy="1606" r="19.5" fill="url(#kS)"/>
<circle cx="1114.5" cy="1655" r="19.5" fill="url(#kS)"/>
<circle cx="698.5" cy="1792" r="19.5" fill="url(#kS)"/>
<circle cx="1261" cy="1776" r="19.5" fill="url(#kS)"/>
<circle cx="634.5" cy="1860" r="19.5" fill="url(#kS)"/>
<circle cx="1181" cy="1841.5" r="19.5" fill="url(#kS)"/>
<path d="M853.6,1138.2 A36,36 0 1 1 907.9,1113.8" fill="none" stroke="#8a8000" stroke-width="4.1" stroke-linecap="round"/>
<path d="M904.4,1124.2 L902.4,1108 L907.6,1112.6 L914.5,1111.4 Z" fill="#8a8000"/>
<path d="M1010.5,1232.9 A40,40 0 1 1 949.6,1269.6" fill="none" stroke="#8a8000" stroke-width="4.1" stroke-linecap="round"/>
<path d="M950.4,1258.7 L956.3,1273.8 L950.1,1270.7 L943.8,1273.5 Z" fill="#8a8000"/>
<path d="M811.8,1334.3 A40,40 0 1 1 881,1329.4" fill="none" stroke="#8a8000" stroke-width="4.1" stroke-linecap="round"/>
<path d="M874.9,1338.6 L877.2,1322.5 L881.1,1328.3 L888,1328.9 Z" fill="#8a8000"/>
<path d="M981.1,1468.8 A40,40 0 1 1 1049.7,1464.1" fill="none" stroke="#8a8000" stroke-width="4.1" stroke-linecap="round"/>
<path d="M1043.4,1473.1 L1046.1,1457 L1049.8,1462.9 L1056.7,1463.6 Z" fill="#8a8000"/>
<path d="M813.1,1627.1 A40,40 0 1 1 882.8,1621.7" fill="none" stroke="#8a8000" stroke-width="4.1" stroke-linecap="round"/>
<path d="M876.9,1631 L878.9,1614.9 L882.9,1620.6 L889.8,1621.1 Z" fill="#8a8000"/>
<path d="M951.9,1745.2 A36,36 0 1 1 1015,1736" fill="none" stroke="#8a8000" stroke-width="4.1" stroke-linecap="round"/>
<path d="M1009.8,1745.6 L1010.5,1729.4 L1014.9,1734.7 L1021.8,1734.7 Z" fill="#8a8000"/>
<circle cx="891.5" cy="1166.5" r="41.5" fill="url(#gS)"/>
<circle cx="966" cy="1220" r="42" fill="url(#gS)"/>
<circle cx="841" cy="1364" r="40.5" fill="url(#gS)"/>
<circle cx="1007" cy="1500" r="43" fill="url(#gS)"/>
<circle cx="849" cy="1661.5" r="40.5" fill="url(#gS)"/>
<circle cx="982" cy="1785" r="42.5" fill="url(#gS)"/>
<circle cx="910.5" cy="1850" r="41.5" fill="url(#gS)"/>
</svg></body></html>
